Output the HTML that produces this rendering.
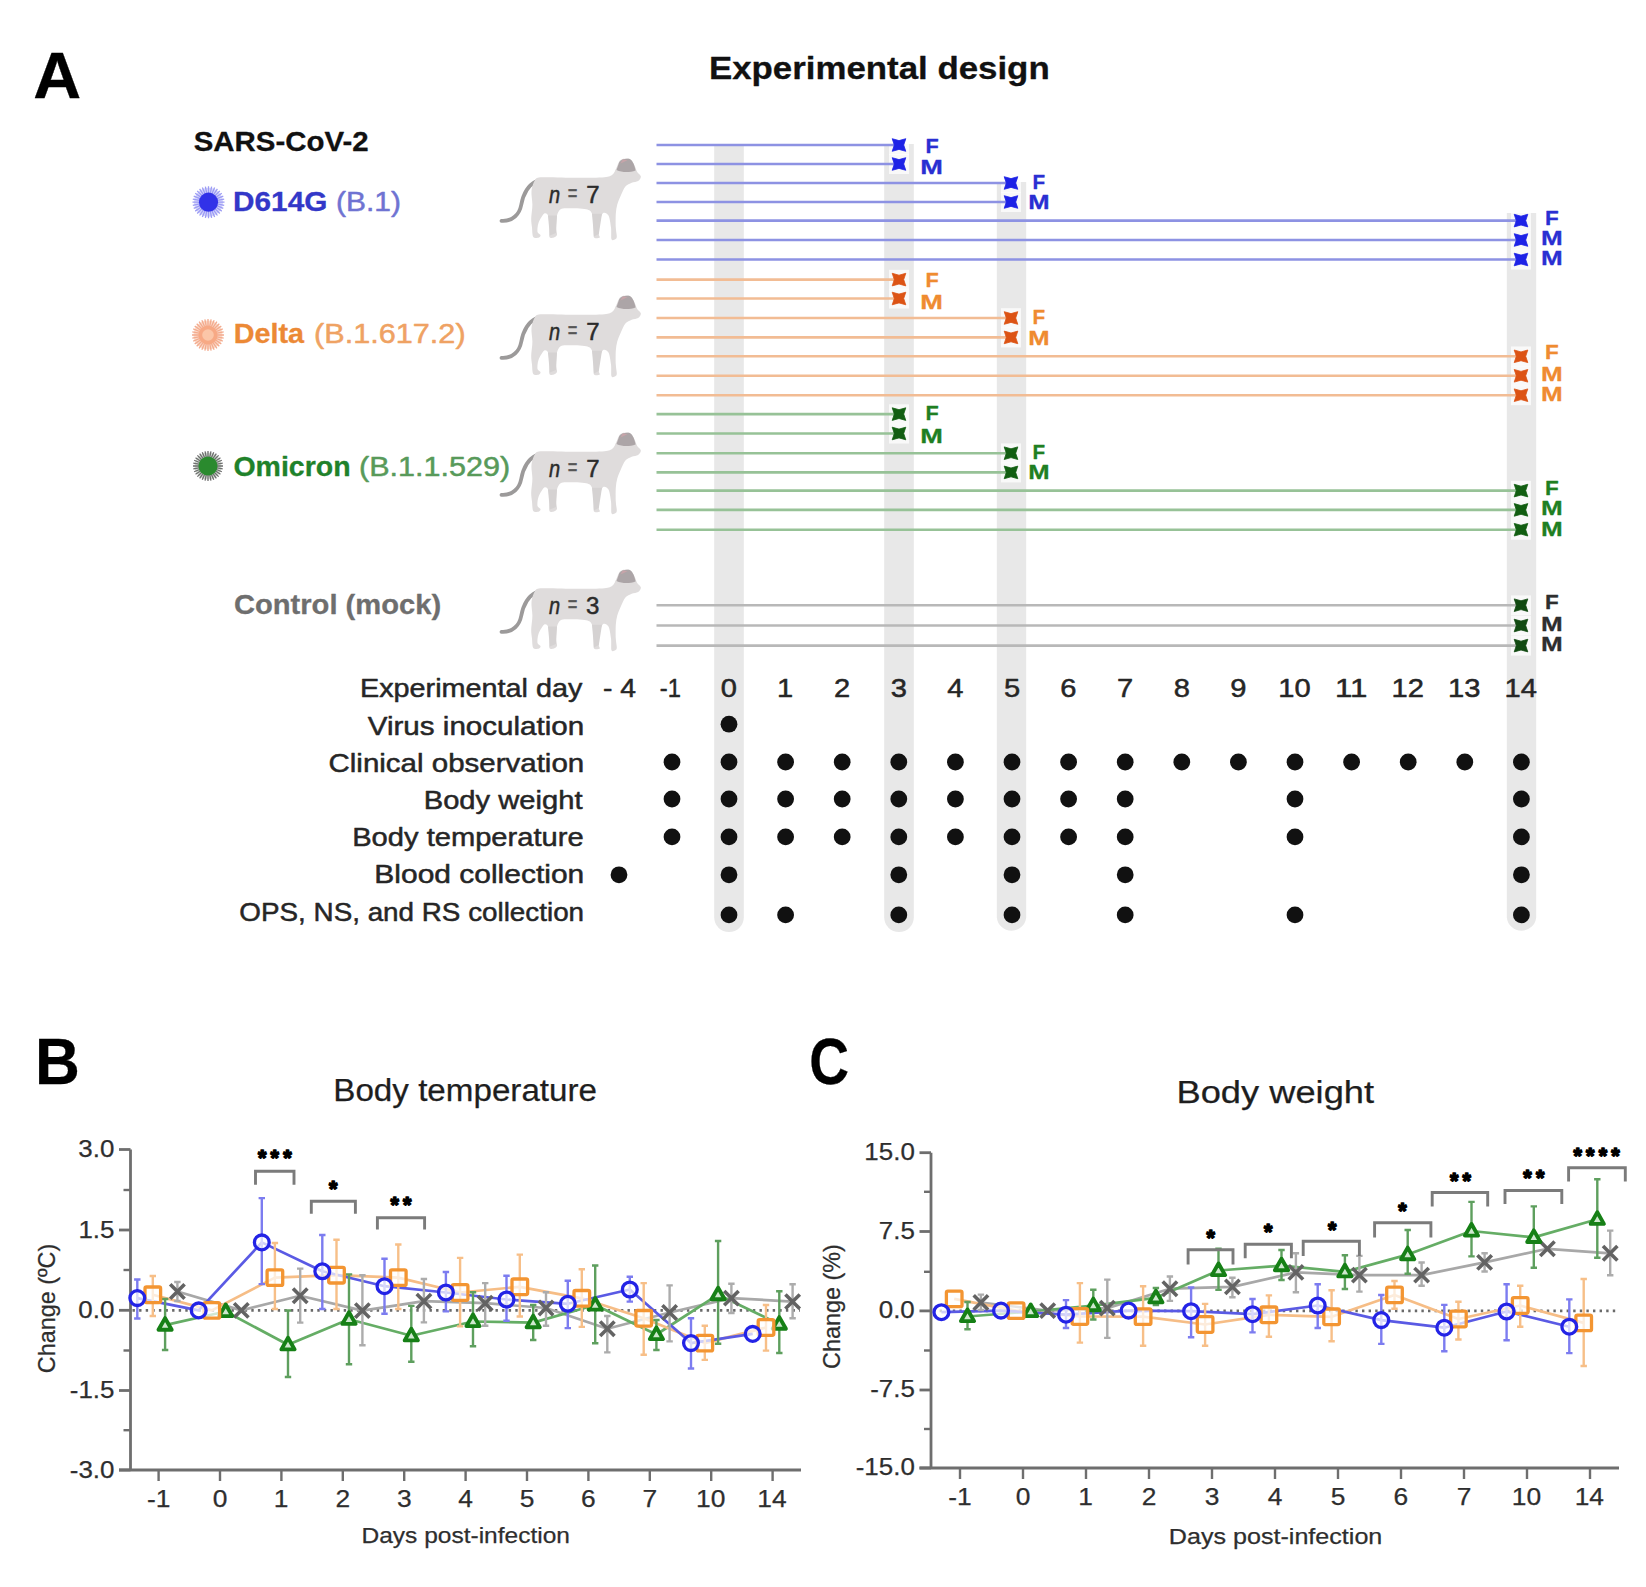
<!DOCTYPE html>
<html><head><meta charset="utf-8"><title>Experimental design</title>
<style>
html,body{margin:0;padding:0;background:#fff;}
body{width:1646px;height:1587px;overflow:hidden;}
svg{display:block;}
</style></head>
<body>
<svg width="1646" height="1587" viewBox="0 0 1646 1587" font-family="'Liberation Sans', Arial, sans-serif"><path d="M714.2,146.0 L743.8,146.0 L743.8,917.2 A14.75,14.75 0 0 1 714.2,917.2 Z" fill="#e8e8e8"/><path d="M884.2,144.0 L913.8,144.0 L913.8,917.2 A14.75,14.75 0 0 1 884.2,917.2 Z" fill="#e8e8e8"/><path d="M996.8,182.0 L1026.2,182.0 L1026.2,917.2 A14.75,14.75 0 0 1 996.8,917.2 Z" fill="#e8e8e8"/><path d="M1506.8,213.0 L1536.2,213.0 L1536.2,917.2 A14.75,14.75 0 0 1 1506.8,917.2 Z" fill="#e8e8e8"/><rect x="889.0" y="135.2" width="20" height="19.8" fill="#fff" fill-opacity="0.75"/><rect x="889.0" y="154.2" width="20" height="19.8" fill="#fff" fill-opacity="0.75"/><rect x="1001.0" y="173.2" width="20" height="19.8" fill="#fff" fill-opacity="0.75"/><rect x="1001.0" y="192.2" width="20" height="19.8" fill="#fff" fill-opacity="0.75"/><rect x="1511.0" y="210.8" width="20" height="19.8" fill="#fff" fill-opacity="0.75"/><rect x="1511.0" y="230.2" width="20" height="19.8" fill="#fff" fill-opacity="0.75"/><rect x="1511.0" y="249.7" width="20" height="19.8" fill="#fff" fill-opacity="0.75"/><rect x="889.0" y="269.8" width="20" height="19.8" fill="#fff" fill-opacity="0.75"/><rect x="889.0" y="288.7" width="20" height="19.8" fill="#fff" fill-opacity="0.75"/><rect x="1001.0" y="308.2" width="20" height="19.8" fill="#fff" fill-opacity="0.75"/><rect x="1001.0" y="327.6" width="20" height="19.8" fill="#fff" fill-opacity="0.75"/><rect x="1511.0" y="346.5" width="20" height="19.8" fill="#fff" fill-opacity="0.75"/><rect x="1511.0" y="366.0" width="20" height="19.8" fill="#fff" fill-opacity="0.75"/><rect x="1511.0" y="385.4" width="20" height="19.8" fill="#fff" fill-opacity="0.75"/><rect x="889.0" y="404.3" width="20" height="19.8" fill="#fff" fill-opacity="0.75"/><rect x="889.0" y="423.7" width="20" height="19.8" fill="#fff" fill-opacity="0.75"/><rect x="1001.0" y="443.4" width="20" height="19.8" fill="#fff" fill-opacity="0.75"/><rect x="1001.0" y="462.6" width="20" height="19.8" fill="#fff" fill-opacity="0.75"/><rect x="1511.0" y="480.8" width="20" height="19.8" fill="#fff" fill-opacity="0.75"/><rect x="1511.0" y="500.1" width="20" height="19.8" fill="#fff" fill-opacity="0.75"/><rect x="1511.0" y="519.9" width="20" height="19.8" fill="#fff" fill-opacity="0.75"/><rect x="1511.0" y="595.4" width="20" height="19.8" fill="#fff" fill-opacity="0.75"/><rect x="1511.0" y="615.7" width="20" height="19.8" fill="#fff" fill-opacity="0.75"/><rect x="1511.0" y="635.8" width="20" height="19.8" fill="#fff" fill-opacity="0.75"/><line x1="656.5" y1="145" x2="899.0" y2="145" stroke="#8d92e3" stroke-width="2.6"/><line x1="656.5" y1="164" x2="899.0" y2="164" stroke="#8d92e3" stroke-width="2.6"/><line x1="656.5" y1="183" x2="1011.0" y2="183" stroke="#8d92e3" stroke-width="2.6"/><line x1="656.5" y1="202" x2="1011.0" y2="202" stroke="#8d92e3" stroke-width="2.6"/><line x1="656.5" y1="220.6" x2="1521.0" y2="220.6" stroke="#8d92e3" stroke-width="2.6"/><line x1="656.5" y1="240" x2="1521.0" y2="240" stroke="#8d92e3" stroke-width="2.6"/><line x1="656.5" y1="259.5" x2="1521.0" y2="259.5" stroke="#8d92e3" stroke-width="2.6"/><line x1="656.5" y1="279.6" x2="899.0" y2="279.6" stroke="#f2bc94" stroke-width="2.6"/><line x1="656.5" y1="298.5" x2="899.0" y2="298.5" stroke="#f2bc94" stroke-width="2.6"/><line x1="656.5" y1="318" x2="1011.0" y2="318" stroke="#f2bc94" stroke-width="2.6"/><line x1="656.5" y1="337.4" x2="1011.0" y2="337.4" stroke="#f2bc94" stroke-width="2.6"/><line x1="656.5" y1="356.3" x2="1521.0" y2="356.3" stroke="#f2bc94" stroke-width="2.6"/><line x1="656.5" y1="375.8" x2="1521.0" y2="375.8" stroke="#f2bc94" stroke-width="2.6"/><line x1="656.5" y1="395.2" x2="1521.0" y2="395.2" stroke="#f2bc94" stroke-width="2.6"/><line x1="656.5" y1="414.1" x2="899.0" y2="414.1" stroke="#97c297" stroke-width="2.6"/><line x1="656.5" y1="433.5" x2="899.0" y2="433.5" stroke="#97c297" stroke-width="2.6"/><line x1="656.5" y1="453.2" x2="1011.0" y2="453.2" stroke="#97c297" stroke-width="2.6"/><line x1="656.5" y1="472.4" x2="1011.0" y2="472.4" stroke="#97c297" stroke-width="2.6"/><line x1="656.5" y1="490.6" x2="1521.0" y2="490.6" stroke="#97c297" stroke-width="2.6"/><line x1="656.5" y1="509.9" x2="1521.0" y2="509.9" stroke="#97c297" stroke-width="2.6"/><line x1="656.5" y1="529.7" x2="1521.0" y2="529.7" stroke="#97c297" stroke-width="2.6"/><line x1="656.5" y1="605.2" x2="1521.0" y2="605.2" stroke="#b8b8b8" stroke-width="2.6"/><line x1="656.5" y1="625.5" x2="1521.0" y2="625.5" stroke="#b8b8b8" stroke-width="2.6"/><line x1="656.5" y1="645.6" x2="1521.0" y2="645.6" stroke="#b8b8b8" stroke-width="2.6"/><polygon points="892.20,138.70 899.00,140.60 905.80,138.70 903.70,145.00 905.80,151.30 899.00,149.40 892.20,151.30 894.30,145.00" fill="#1d22e6" stroke="#1d22e6" stroke-width="0.8" stroke-linejoin="round"/><text x="925.55" y="153.0" font-size="21" fill="#2a2fd2" textLength="13.24" lengthAdjust="spacingAndGlyphs" font-weight="bold" stroke="#2a2fd2" stroke-width="0.3" stroke-linejoin="round">F</text><polygon points="892.20,157.70 899.00,159.60 905.80,157.70 903.70,164.00 905.80,170.30 899.00,168.40 892.20,170.30 894.30,164.00" fill="#1d22e6" stroke="#1d22e6" stroke-width="0.8" stroke-linejoin="round"/><text x="920.38" y="173.5" font-size="21" fill="#2a2fd2" textLength="22.64" lengthAdjust="spacingAndGlyphs" font-weight="bold" stroke="#2a2fd2" stroke-width="0.3" stroke-linejoin="round">M</text><polygon points="1004.20,176.70 1011.00,178.60 1017.80,176.70 1015.70,183.00 1017.80,189.30 1011.00,187.40 1004.20,189.30 1006.30,183.00" fill="#1d22e6" stroke="#1d22e6" stroke-width="0.8" stroke-linejoin="round"/><text x="1032.62" y="189.0" font-size="21" fill="#2a2fd2" textLength="12.64" lengthAdjust="spacingAndGlyphs" font-weight="bold" stroke="#2a2fd2" stroke-width="0.3" stroke-linejoin="round">F</text><polygon points="1004.20,195.70 1011.00,197.60 1017.80,195.70 1015.70,202.00 1017.80,208.30 1011.00,206.40 1004.20,208.30 1006.30,202.00" fill="#1d22e6" stroke="#1d22e6" stroke-width="0.8" stroke-linejoin="round"/><text x="1028.39" y="209.4" font-size="21" fill="#2a2fd2" textLength="21.33" lengthAdjust="spacingAndGlyphs" font-weight="bold" stroke="#2a2fd2" stroke-width="0.3" stroke-linejoin="round">M</text><polygon points="1514.20,214.30 1521.00,216.20 1527.80,214.30 1525.70,220.60 1527.80,226.90 1521.00,225.00 1514.20,226.90 1516.30,220.60" fill="#1d22e6" stroke="#1d22e6" stroke-width="0.8" stroke-linejoin="round"/><text x="1544.90" y="225.0" font-size="21" fill="#2a2fd2" textLength="13.73" lengthAdjust="spacingAndGlyphs" font-weight="bold" stroke="#2a2fd2" stroke-width="0.3" stroke-linejoin="round">F</text><polygon points="1514.20,233.70 1521.00,235.60 1527.80,233.70 1525.70,240.00 1527.80,246.30 1521.00,244.40 1514.20,246.30 1516.30,240.00" fill="#1d22e6" stroke="#1d22e6" stroke-width="0.8" stroke-linejoin="round"/><text x="1541.06" y="245.0" font-size="21" fill="#2a2fd2" textLength="21.68" lengthAdjust="spacingAndGlyphs" font-weight="bold" stroke="#2a2fd2" stroke-width="0.3" stroke-linejoin="round">M</text><polygon points="1514.20,253.20 1521.00,255.10 1527.80,253.20 1525.70,259.50 1527.80,265.80 1521.00,263.90 1514.20,265.80 1516.30,259.50" fill="#1d22e6" stroke="#1d22e6" stroke-width="0.8" stroke-linejoin="round"/><text x="1541.06" y="264.6" font-size="21" fill="#2a2fd2" textLength="21.68" lengthAdjust="spacingAndGlyphs" font-weight="bold" stroke="#2a2fd2" stroke-width="0.3" stroke-linejoin="round">M</text><polygon points="892.20,273.30 899.00,275.20 905.80,273.30 903.70,279.60 905.80,285.90 899.00,284.00 892.20,285.90 894.30,279.60" fill="#dc5314" stroke="#dc5314" stroke-width="0.8" stroke-linejoin="round"/><text x="925.55" y="286.5" font-size="21" fill="#ef8b30" textLength="13.24" lengthAdjust="spacingAndGlyphs" font-weight="bold" stroke="#ef8b30" stroke-width="0.3" stroke-linejoin="round">F</text><polygon points="892.20,292.20 899.00,294.10 905.80,292.20 903.70,298.50 905.80,304.80 899.00,302.90 892.20,304.80 894.30,298.50" fill="#dc5314" stroke="#dc5314" stroke-width="0.8" stroke-linejoin="round"/><text x="920.38" y="308.6" font-size="21" fill="#ef8b30" textLength="22.64" lengthAdjust="spacingAndGlyphs" font-weight="bold" stroke="#ef8b30" stroke-width="0.3" stroke-linejoin="round">M</text><polygon points="1004.20,311.70 1011.00,313.60 1017.80,311.70 1015.70,318.00 1017.80,324.30 1011.00,322.40 1004.20,324.30 1006.30,318.00" fill="#dc5314" stroke="#dc5314" stroke-width="0.8" stroke-linejoin="round"/><text x="1032.62" y="323.7" font-size="21" fill="#ef8b30" textLength="12.64" lengthAdjust="spacingAndGlyphs" font-weight="bold" stroke="#ef8b30" stroke-width="0.3" stroke-linejoin="round">F</text><polygon points="1004.20,331.10 1011.00,333.00 1017.80,331.10 1015.70,337.40 1017.80,343.70 1011.00,341.80 1004.20,343.70 1006.30,337.40" fill="#dc5314" stroke="#dc5314" stroke-width="0.8" stroke-linejoin="round"/><text x="1028.39" y="344.7" font-size="21" fill="#ef8b30" textLength="21.33" lengthAdjust="spacingAndGlyphs" font-weight="bold" stroke="#ef8b30" stroke-width="0.3" stroke-linejoin="round">M</text><polygon points="1514.20,350.00 1521.00,351.90 1527.80,350.00 1525.70,356.30 1527.80,362.60 1521.00,360.70 1514.20,362.60 1516.30,356.30" fill="#dc5314" stroke="#dc5314" stroke-width="0.8" stroke-linejoin="round"/><text x="1544.90" y="359.0" font-size="21" fill="#ef8b30" textLength="13.73" lengthAdjust="spacingAndGlyphs" font-weight="bold" stroke="#ef8b30" stroke-width="0.3" stroke-linejoin="round">F</text><polygon points="1514.20,369.50 1521.00,371.40 1527.80,369.50 1525.70,375.80 1527.80,382.10 1521.00,380.20 1514.20,382.10 1516.30,375.80" fill="#dc5314" stroke="#dc5314" stroke-width="0.8" stroke-linejoin="round"/><text x="1541.06" y="380.8" font-size="21" fill="#ef8b30" textLength="21.68" lengthAdjust="spacingAndGlyphs" font-weight="bold" stroke="#ef8b30" stroke-width="0.3" stroke-linejoin="round">M</text><polygon points="1514.20,388.90 1521.00,390.80 1527.80,388.90 1525.70,395.20 1527.80,401.50 1521.00,399.60 1514.20,401.50 1516.30,395.20" fill="#dc5314" stroke="#dc5314" stroke-width="0.8" stroke-linejoin="round"/><text x="1541.06" y="400.7" font-size="21" fill="#ef8b30" textLength="21.68" lengthAdjust="spacingAndGlyphs" font-weight="bold" stroke="#ef8b30" stroke-width="0.3" stroke-linejoin="round">M</text><polygon points="892.20,407.80 899.00,409.70 905.80,407.80 903.70,414.10 905.80,420.40 899.00,418.50 892.20,420.40 894.30,414.10" fill="#125e12" stroke="#125e12" stroke-width="0.8" stroke-linejoin="round"/><text x="925.55" y="420.0" font-size="21" fill="#1f7f22" textLength="13.24" lengthAdjust="spacingAndGlyphs" font-weight="bold" stroke="#1f7f22" stroke-width="0.3" stroke-linejoin="round">F</text><polygon points="892.20,427.20 899.00,429.10 905.80,427.20 903.70,433.50 905.80,439.80 899.00,437.90 892.20,439.80 894.30,433.50" fill="#125e12" stroke="#125e12" stroke-width="0.8" stroke-linejoin="round"/><text x="920.38" y="443.3" font-size="21" fill="#1f7f22" textLength="22.64" lengthAdjust="spacingAndGlyphs" font-weight="bold" stroke="#1f7f22" stroke-width="0.3" stroke-linejoin="round">M</text><polygon points="1004.20,446.90 1011.00,448.80 1017.80,446.90 1015.70,453.20 1017.80,459.50 1011.00,457.60 1004.20,459.50 1006.30,453.20" fill="#125e12" stroke="#125e12" stroke-width="0.8" stroke-linejoin="round"/><text x="1032.62" y="459.4" font-size="21" fill="#1f7f22" textLength="12.64" lengthAdjust="spacingAndGlyphs" font-weight="bold" stroke="#1f7f22" stroke-width="0.3" stroke-linejoin="round">F</text><polygon points="1004.20,466.10 1011.00,468.00 1017.80,466.10 1015.70,472.40 1017.80,478.70 1011.00,476.80 1004.20,478.70 1006.30,472.40" fill="#125e12" stroke="#125e12" stroke-width="0.8" stroke-linejoin="round"/><text x="1028.39" y="479.1" font-size="21" fill="#1f7f22" textLength="21.33" lengthAdjust="spacingAndGlyphs" font-weight="bold" stroke="#1f7f22" stroke-width="0.3" stroke-linejoin="round">M</text><polygon points="1514.20,484.30 1521.00,486.20 1527.80,484.30 1525.70,490.60 1527.80,496.90 1521.00,495.00 1514.20,496.90 1516.30,490.60" fill="#125e12" stroke="#125e12" stroke-width="0.8" stroke-linejoin="round"/><text x="1544.90" y="495.0" font-size="21" fill="#1f7f22" textLength="13.73" lengthAdjust="spacingAndGlyphs" font-weight="bold" stroke="#1f7f22" stroke-width="0.3" stroke-linejoin="round">F</text><polygon points="1514.20,503.60 1521.00,505.50 1527.80,503.60 1525.70,509.90 1527.80,516.20 1521.00,514.30 1514.20,516.20 1516.30,509.90" fill="#125e12" stroke="#125e12" stroke-width="0.8" stroke-linejoin="round"/><text x="1541.06" y="515.3" font-size="21" fill="#1f7f22" textLength="21.68" lengthAdjust="spacingAndGlyphs" font-weight="bold" stroke="#1f7f22" stroke-width="0.3" stroke-linejoin="round">M</text><polygon points="1514.20,523.40 1521.00,525.30 1527.80,523.40 1525.70,529.70 1527.80,536.00 1521.00,534.10 1514.20,536.00 1516.30,529.70" fill="#125e12" stroke="#125e12" stroke-width="0.8" stroke-linejoin="round"/><text x="1541.06" y="536.2" font-size="21" fill="#1f7f22" textLength="21.68" lengthAdjust="spacingAndGlyphs" font-weight="bold" stroke="#1f7f22" stroke-width="0.3" stroke-linejoin="round">M</text><polygon points="1514.20,598.90 1521.00,600.80 1527.80,598.90 1525.70,605.20 1527.80,611.50 1521.00,609.60 1514.20,611.50 1516.30,605.20" fill="#124a12" stroke="#124a12" stroke-width="0.8" stroke-linejoin="round"/><text x="1544.90" y="609.4" font-size="21" fill="#2e2e2e" textLength="13.73" lengthAdjust="spacingAndGlyphs" font-weight="bold" stroke="#2e2e2e" stroke-width="0.3" stroke-linejoin="round">F</text><polygon points="1514.20,619.20 1521.00,621.10 1527.80,619.20 1525.70,625.50 1527.80,631.80 1521.00,629.90 1514.20,631.80 1516.30,625.50" fill="#124a12" stroke="#124a12" stroke-width="0.8" stroke-linejoin="round"/><text x="1541.06" y="630.8" font-size="21" fill="#2e2e2e" textLength="21.68" lengthAdjust="spacingAndGlyphs" font-weight="bold" stroke="#2e2e2e" stroke-width="0.3" stroke-linejoin="round">M</text><polygon points="1514.20,639.30 1521.00,641.20 1527.80,639.30 1525.70,645.60 1527.80,651.90 1521.00,650.00 1514.20,651.90 1516.30,645.60" fill="#124a12" stroke="#124a12" stroke-width="0.8" stroke-linejoin="round"/><text x="1541.06" y="650.7" font-size="21" fill="#2e2e2e" textLength="21.68" lengthAdjust="spacingAndGlyphs" font-weight="bold" stroke="#2e2e2e" stroke-width="0.3" stroke-linejoin="round">M</text><text x="33.15" y="97.5" font-size="64" fill="#000" textLength="47.90" lengthAdjust="spacingAndGlyphs" font-weight="bold" stroke="#000" stroke-width="0.3" stroke-linejoin="round">A</text><text x="708.97" y="79.0" font-size="32" fill="#111" textLength="340.69" lengthAdjust="spacingAndGlyphs" font-weight="bold" stroke="#111" stroke-width="0.3" stroke-linejoin="round">Experimental design</text><text x="193.76" y="151.0" font-size="28" fill="#111" textLength="174.91" lengthAdjust="spacingAndGlyphs" font-weight="bold" stroke="#111" stroke-width="0.3" stroke-linejoin="round">SARS-CoV-2</text><circle cx="208.5" cy="202.2" r="14.5" fill="#d6d6fb"/><path d="M217.62,202.20L224.50,202.20M217.44,203.98L224.19,205.32M216.93,205.69L223.28,208.32M216.08,207.27L221.80,211.09M214.95,208.65L219.81,213.51M213.57,209.78L217.39,215.50M211.99,210.63L214.62,216.98M210.28,211.14L211.62,217.89M208.50,211.32L208.50,218.20M206.72,211.14L205.38,217.89M205.01,210.63L202.38,216.98M203.43,209.78L199.61,215.50M202.05,208.65L197.19,213.51M200.92,207.27L195.20,211.09M200.07,205.69L193.72,208.32M199.56,203.98L192.81,205.32M199.38,202.20L192.50,202.20M199.56,200.42L192.81,199.08M200.07,198.71L193.72,196.08M200.92,197.13L195.20,193.31M202.05,195.75L197.19,190.89M203.43,194.62L199.61,188.90M205.01,193.77L202.38,187.42M206.72,193.26L205.38,186.51M208.50,193.08L208.50,186.20M210.28,193.26L211.62,186.51M211.99,193.77L214.62,187.42M213.57,194.62L217.39,188.90M214.95,195.75L219.81,190.89M216.08,197.13L221.80,193.31M216.93,198.71L223.28,196.08M217.44,200.42L224.19,199.08" stroke="#9c9cf4" stroke-width="1.3"/><circle cx="208.5" cy="202.2" r="9.6" fill="#3131e8"/><circle cx="208.0" cy="335.0" r="14.5" fill="#fbd9c8"/><path d="M217.12,335.00L224.00,335.00M216.94,336.78L223.69,338.12M216.43,338.49L222.78,341.12M215.58,340.07L221.30,343.89M214.45,341.45L219.31,346.31M213.07,342.58L216.89,348.30M211.49,343.43L214.12,349.78M209.78,343.94L211.12,350.69M208.00,344.12L208.00,351.00M206.22,343.94L204.88,350.69M204.51,343.43L201.88,349.78M202.93,342.58L199.11,348.30M201.55,341.45L196.69,346.31M200.42,340.07L194.70,343.89M199.57,338.49L193.22,341.12M199.06,336.78L192.31,338.12M198.88,335.00L192.00,335.00M199.06,333.22L192.31,331.88M199.57,331.51L193.22,328.88M200.42,329.93L194.70,326.11M201.55,328.55L196.69,323.69M202.93,327.42L199.11,321.70M204.51,326.57L201.88,320.22M206.22,326.06L204.88,319.31M208.00,325.88L208.00,319.00M209.78,326.06L211.12,319.31M211.49,326.57L214.12,320.22M213.07,327.42L216.89,321.70M214.45,328.55L219.31,323.69M215.58,329.93L221.30,326.11M216.43,331.51L222.78,328.88M216.94,333.22L223.69,331.88" stroke="#f3ab8e" stroke-width="1.3"/><circle cx="208.0" cy="335.0" r="9.6" fill="#f7a985"/><circle cx="208.0" cy="335.0" r="5.8" fill="#fbc6a8"/><circle cx="208.0" cy="466.0" r="13.5" fill="#d3dcd3"/><path d="M217.12,466.00L223.00,466.00M216.94,467.78L222.71,468.93M216.43,469.49L221.86,471.74M215.58,471.07L220.47,474.33M214.45,472.45L218.61,476.61M213.07,473.58L216.33,478.47M211.49,474.43L213.74,479.86M209.78,474.94L210.93,480.71M208.00,475.12L208.00,481.00M206.22,474.94L205.07,480.71M204.51,474.43L202.26,479.86M202.93,473.58L199.67,478.47M201.55,472.45L197.39,476.61M200.42,471.07L195.53,474.33M199.57,469.49L194.14,471.74M199.06,467.78L193.29,468.93M198.88,466.00L193.00,466.00M199.06,464.22L193.29,463.07M199.57,462.51L194.14,460.26M200.42,460.93L195.53,457.67M201.55,459.55L197.39,455.39M202.93,458.42L199.67,453.53M204.51,457.57L202.26,452.14M206.22,457.06L205.07,451.29M208.00,456.88L208.00,451.00M209.78,457.06L210.93,451.29M211.49,457.57L213.74,452.14M213.07,458.42L216.33,453.53M214.45,459.55L218.61,455.39M215.58,460.93L220.47,457.67M216.43,462.51L221.86,460.26M216.94,464.22L222.71,463.07" stroke="#6e6e6e" stroke-width="1.3"/><circle cx="208.0" cy="466.0" r="9.6" fill="#2a8a2e"/><text x="233.11" y="210.5" font-size="28.5" fill="#3338c8" textLength="94.23" lengthAdjust="spacingAndGlyphs" font-weight="bold" stroke="#3338c8" stroke-width="0.3" stroke-linejoin="round">D614G</text><text x="335.94" y="210.5" font-size="28.5" fill="#6f73d2" textLength="64.92" lengthAdjust="spacingAndGlyphs" stroke="#6f73d2" stroke-width="0.5" stroke-linejoin="round">(B.1)</text><text x="233.78" y="342.6" font-size="28.5" fill="#ec8935" textLength="70.34" lengthAdjust="spacingAndGlyphs" font-weight="bold" stroke="#ec8935" stroke-width="0.3" stroke-linejoin="round">Delta</text><text x="314.00" y="342.6" font-size="28.5" fill="#efa263" textLength="151.60" lengthAdjust="spacingAndGlyphs" stroke="#efa263" stroke-width="0.5" stroke-linejoin="round">(B.1.617.2)</text><text x="233.43" y="475.7" font-size="28.5" fill="#1f822b" textLength="117.24" lengthAdjust="spacingAndGlyphs" font-weight="bold" stroke="#1f822b" stroke-width="0.3" stroke-linejoin="round">Omicron</text><text x="359.00" y="475.7" font-size="28.5" fill="#589a5a" textLength="151.19" lengthAdjust="spacingAndGlyphs" stroke="#589a5a" stroke-width="0.5" stroke-linejoin="round">(B.1.1.529)</text><text x="233.90" y="614.0" font-size="28.5" fill="#6e6e6e" textLength="207.25" lengthAdjust="spacingAndGlyphs" font-weight="bold" stroke="#6e6e6e" stroke-width="0.3" stroke-linejoin="round">Control (mock)</text><g transform="translate(0,0)"><path d="M536,181.5 C527,186 523,195 521.2,205 C519.5,214 513,221.5 501.5,220.8" stroke="#9c9a9a" stroke-width="3.8" fill="none" stroke-linecap="round"/><path d="M535.1,180.1C536.7,178.0 536.1,177.6 542.4,177.3C548.7,177.0 567.7,177.8 577.0,177.8C586.3,177.8 599.1,177.8 604.4,177.3C609.7,176.8 610.8,176.0 612.6,174.6C614.4,173.2 615.2,170.1 616.2,168.2C617.2,166.3 618.0,163.3 619.0,161.9C620.0,160.5 621.0,159.5 622.6,159.1C624.2,158.7 628.1,158.1 629.9,159.1C631.7,160.1 633.4,163.6 634.5,165.5C635.6,167.4 636.2,170.3 637.2,171.9C638.2,173.5 640.8,175.0 640.9,176.4C641.0,177.8 639.5,180.0 638.1,181.0C636.7,182.0 633.6,182.0 631.7,182.8C629.8,183.6 627.0,184.6 625.4,186.5C623.8,188.4 622.0,192.9 620.8,195.6C619.6,198.3 618.0,202.0 617.2,204.7C616.5,207.4 616.0,210.4 615.8,213.8C615.6,217.2 615.6,224.1 615.8,227.5C615.9,230.9 616.9,234.8 616.8,236.6C616.7,238.4 616.1,238.9 615.3,239.3C614.5,239.7 612.1,241.1 611.5,239.3C610.9,237.5 611.5,231.1 611.0,227.5C610.5,223.9 609.7,217.7 608.5,215.6C607.3,213.5 604.4,212.1 603.0,213.2C601.6,214.3 599.6,219.8 599.0,222.9C598.4,226.0 598.7,231.7 598.8,233.9C598.9,236.1 600.5,237.0 599.8,237.5C599.1,238.0 594.9,239.0 594.0,237.5C593.1,236.0 593.8,231.1 593.5,227.5C593.2,223.9 593.1,216.5 592.0,213.8C590.9,211.1 589.8,210.1 586.2,209.3C582.6,208.5 571.7,208.3 567.9,208.3C564.1,208.3 562.2,208.2 560.6,209.3C559.0,210.4 557.7,212.9 557.0,215.6C556.3,218.3 556.0,224.6 556.0,227.5C556.0,230.4 557.3,233.3 557.0,234.8C556.7,236.3 555.1,237.2 554.0,237.5C552.9,237.8 550.2,238.5 549.5,237.0C548.8,235.5 549.7,230.7 549.5,227.5C549.3,224.3 548.8,217.7 548.0,215.6C547.2,213.5 545.4,212.7 544.0,213.8C542.6,214.9 539.5,220.2 538.5,222.9C537.5,225.6 537.2,230.2 537.5,232.0C537.8,233.8 540.3,234.2 540.5,235.0C540.7,235.8 540.1,237.2 539.0,237.5C537.9,237.8 534.3,238.5 533.3,237.0C532.2,235.5 532.3,230.3 532.0,227.5C531.7,224.7 531.1,221.8 531.2,218.4C531.3,215.0 532.4,208.8 532.4,204.7C532.4,200.6 531.1,194.7 531.5,191.0C531.9,187.3 533.5,182.2 535.1,180.1Z" fill="#dfdcdc"/><path d="M592,213.8 L602,213.8 L598.8,233.9 L594,236.5 Z M548,215.6 L557,215.6 L556,233 L549.8,235.5 Z" fill="#d5d2d2"/><path d="M616.5,170 L619.3,162 C621.5,159 626,158.3 629.8,159 C632.6,160.6 634.2,164 635.6,170.5 C629,172.8 622,172.5 616.5,170 Z" fill="#aca5a7"/><path d="M620.5,163.5 L622.8,159.2 L627.5,160.2 Z" fill="#c7a4a9"/></g><text x="548.97" y="203" font-size="23" fill="#2b2b2b" textLength="11.14" lengthAdjust="spacingAndGlyphs" font-style="italic" stroke="#2b2b2b" stroke-width="0.5" stroke-linejoin="round">n</text><text x="567.70" y="201" font-size="23" fill="#555" textLength="9.62" lengthAdjust="spacingAndGlyphs" stroke="#555" stroke-width="0.5" stroke-linejoin="round">=</text><text x="586.27" y="203" font-size="23" fill="#2b2b2b" textLength="13.34" lengthAdjust="spacingAndGlyphs" stroke="#2b2b2b" stroke-width="0.5" stroke-linejoin="round">7</text><g transform="translate(0,137)"><path d="M536,181.5 C527,186 523,195 521.2,205 C519.5,214 513,221.5 501.5,220.8" stroke="#9c9a9a" stroke-width="3.8" fill="none" stroke-linecap="round"/><path d="M535.1,180.1C536.7,178.0 536.1,177.6 542.4,177.3C548.7,177.0 567.7,177.8 577.0,177.8C586.3,177.8 599.1,177.8 604.4,177.3C609.7,176.8 610.8,176.0 612.6,174.6C614.4,173.2 615.2,170.1 616.2,168.2C617.2,166.3 618.0,163.3 619.0,161.9C620.0,160.5 621.0,159.5 622.6,159.1C624.2,158.7 628.1,158.1 629.9,159.1C631.7,160.1 633.4,163.6 634.5,165.5C635.6,167.4 636.2,170.3 637.2,171.9C638.2,173.5 640.8,175.0 640.9,176.4C641.0,177.8 639.5,180.0 638.1,181.0C636.7,182.0 633.6,182.0 631.7,182.8C629.8,183.6 627.0,184.6 625.4,186.5C623.8,188.4 622.0,192.9 620.8,195.6C619.6,198.3 618.0,202.0 617.2,204.7C616.5,207.4 616.0,210.4 615.8,213.8C615.6,217.2 615.6,224.1 615.8,227.5C615.9,230.9 616.9,234.8 616.8,236.6C616.7,238.4 616.1,238.9 615.3,239.3C614.5,239.7 612.1,241.1 611.5,239.3C610.9,237.5 611.5,231.1 611.0,227.5C610.5,223.9 609.7,217.7 608.5,215.6C607.3,213.5 604.4,212.1 603.0,213.2C601.6,214.3 599.6,219.8 599.0,222.9C598.4,226.0 598.7,231.7 598.8,233.9C598.9,236.1 600.5,237.0 599.8,237.5C599.1,238.0 594.9,239.0 594.0,237.5C593.1,236.0 593.8,231.1 593.5,227.5C593.2,223.9 593.1,216.5 592.0,213.8C590.9,211.1 589.8,210.1 586.2,209.3C582.6,208.5 571.7,208.3 567.9,208.3C564.1,208.3 562.2,208.2 560.6,209.3C559.0,210.4 557.7,212.9 557.0,215.6C556.3,218.3 556.0,224.6 556.0,227.5C556.0,230.4 557.3,233.3 557.0,234.8C556.7,236.3 555.1,237.2 554.0,237.5C552.9,237.8 550.2,238.5 549.5,237.0C548.8,235.5 549.7,230.7 549.5,227.5C549.3,224.3 548.8,217.7 548.0,215.6C547.2,213.5 545.4,212.7 544.0,213.8C542.6,214.9 539.5,220.2 538.5,222.9C537.5,225.6 537.2,230.2 537.5,232.0C537.8,233.8 540.3,234.2 540.5,235.0C540.7,235.8 540.1,237.2 539.0,237.5C537.9,237.8 534.3,238.5 533.3,237.0C532.2,235.5 532.3,230.3 532.0,227.5C531.7,224.7 531.1,221.8 531.2,218.4C531.3,215.0 532.4,208.8 532.4,204.7C532.4,200.6 531.1,194.7 531.5,191.0C531.9,187.3 533.5,182.2 535.1,180.1Z" fill="#dfdcdc"/><path d="M592,213.8 L602,213.8 L598.8,233.9 L594,236.5 Z M548,215.6 L557,215.6 L556,233 L549.8,235.5 Z" fill="#d5d2d2"/><path d="M616.5,170 L619.3,162 C621.5,159 626,158.3 629.8,159 C632.6,160.6 634.2,164 635.6,170.5 C629,172.8 622,172.5 616.5,170 Z" fill="#aca5a7"/><path d="M620.5,163.5 L622.8,159.2 L627.5,160.2 Z" fill="#c7a4a9"/></g><text x="548.97" y="340" font-size="23" fill="#2b2b2b" textLength="11.14" lengthAdjust="spacingAndGlyphs" font-style="italic" stroke="#2b2b2b" stroke-width="0.5" stroke-linejoin="round">n</text><text x="567.70" y="338" font-size="23" fill="#555" textLength="9.62" lengthAdjust="spacingAndGlyphs" stroke="#555" stroke-width="0.5" stroke-linejoin="round">=</text><text x="586.27" y="340" font-size="23" fill="#2b2b2b" textLength="13.34" lengthAdjust="spacingAndGlyphs" stroke="#2b2b2b" stroke-width="0.5" stroke-linejoin="round">7</text><g transform="translate(0,274)"><path d="M536,181.5 C527,186 523,195 521.2,205 C519.5,214 513,221.5 501.5,220.8" stroke="#9c9a9a" stroke-width="3.8" fill="none" stroke-linecap="round"/><path d="M535.1,180.1C536.7,178.0 536.1,177.6 542.4,177.3C548.7,177.0 567.7,177.8 577.0,177.8C586.3,177.8 599.1,177.8 604.4,177.3C609.7,176.8 610.8,176.0 612.6,174.6C614.4,173.2 615.2,170.1 616.2,168.2C617.2,166.3 618.0,163.3 619.0,161.9C620.0,160.5 621.0,159.5 622.6,159.1C624.2,158.7 628.1,158.1 629.9,159.1C631.7,160.1 633.4,163.6 634.5,165.5C635.6,167.4 636.2,170.3 637.2,171.9C638.2,173.5 640.8,175.0 640.9,176.4C641.0,177.8 639.5,180.0 638.1,181.0C636.7,182.0 633.6,182.0 631.7,182.8C629.8,183.6 627.0,184.6 625.4,186.5C623.8,188.4 622.0,192.9 620.8,195.6C619.6,198.3 618.0,202.0 617.2,204.7C616.5,207.4 616.0,210.4 615.8,213.8C615.6,217.2 615.6,224.1 615.8,227.5C615.9,230.9 616.9,234.8 616.8,236.6C616.7,238.4 616.1,238.9 615.3,239.3C614.5,239.7 612.1,241.1 611.5,239.3C610.9,237.5 611.5,231.1 611.0,227.5C610.5,223.9 609.7,217.7 608.5,215.6C607.3,213.5 604.4,212.1 603.0,213.2C601.6,214.3 599.6,219.8 599.0,222.9C598.4,226.0 598.7,231.7 598.8,233.9C598.9,236.1 600.5,237.0 599.8,237.5C599.1,238.0 594.9,239.0 594.0,237.5C593.1,236.0 593.8,231.1 593.5,227.5C593.2,223.9 593.1,216.5 592.0,213.8C590.9,211.1 589.8,210.1 586.2,209.3C582.6,208.5 571.7,208.3 567.9,208.3C564.1,208.3 562.2,208.2 560.6,209.3C559.0,210.4 557.7,212.9 557.0,215.6C556.3,218.3 556.0,224.6 556.0,227.5C556.0,230.4 557.3,233.3 557.0,234.8C556.7,236.3 555.1,237.2 554.0,237.5C552.9,237.8 550.2,238.5 549.5,237.0C548.8,235.5 549.7,230.7 549.5,227.5C549.3,224.3 548.8,217.7 548.0,215.6C547.2,213.5 545.4,212.7 544.0,213.8C542.6,214.9 539.5,220.2 538.5,222.9C537.5,225.6 537.2,230.2 537.5,232.0C537.8,233.8 540.3,234.2 540.5,235.0C540.7,235.8 540.1,237.2 539.0,237.5C537.9,237.8 534.3,238.5 533.3,237.0C532.2,235.5 532.3,230.3 532.0,227.5C531.7,224.7 531.1,221.8 531.2,218.4C531.3,215.0 532.4,208.8 532.4,204.7C532.4,200.6 531.1,194.7 531.5,191.0C531.9,187.3 533.5,182.2 535.1,180.1Z" fill="#dfdcdc"/><path d="M592,213.8 L602,213.8 L598.8,233.9 L594,236.5 Z M548,215.6 L557,215.6 L556,233 L549.8,235.5 Z" fill="#d5d2d2"/><path d="M616.5,170 L619.3,162 C621.5,159 626,158.3 629.8,159 C632.6,160.6 634.2,164 635.6,170.5 C629,172.8 622,172.5 616.5,170 Z" fill="#aca5a7"/><path d="M620.5,163.5 L622.8,159.2 L627.5,160.2 Z" fill="#c7a4a9"/></g><text x="548.97" y="477" font-size="23" fill="#2b2b2b" textLength="11.14" lengthAdjust="spacingAndGlyphs" font-style="italic" stroke="#2b2b2b" stroke-width="0.5" stroke-linejoin="round">n</text><text x="567.70" y="475" font-size="23" fill="#555" textLength="9.62" lengthAdjust="spacingAndGlyphs" stroke="#555" stroke-width="0.5" stroke-linejoin="round">=</text><text x="586.27" y="477" font-size="23" fill="#2b2b2b" textLength="13.34" lengthAdjust="spacingAndGlyphs" stroke="#2b2b2b" stroke-width="0.5" stroke-linejoin="round">7</text><g transform="translate(0,411)"><path d="M536,181.5 C527,186 523,195 521.2,205 C519.5,214 513,221.5 501.5,220.8" stroke="#9c9a9a" stroke-width="3.8" fill="none" stroke-linecap="round"/><path d="M535.1,180.1C536.7,178.0 536.1,177.6 542.4,177.3C548.7,177.0 567.7,177.8 577.0,177.8C586.3,177.8 599.1,177.8 604.4,177.3C609.7,176.8 610.8,176.0 612.6,174.6C614.4,173.2 615.2,170.1 616.2,168.2C617.2,166.3 618.0,163.3 619.0,161.9C620.0,160.5 621.0,159.5 622.6,159.1C624.2,158.7 628.1,158.1 629.9,159.1C631.7,160.1 633.4,163.6 634.5,165.5C635.6,167.4 636.2,170.3 637.2,171.9C638.2,173.5 640.8,175.0 640.9,176.4C641.0,177.8 639.5,180.0 638.1,181.0C636.7,182.0 633.6,182.0 631.7,182.8C629.8,183.6 627.0,184.6 625.4,186.5C623.8,188.4 622.0,192.9 620.8,195.6C619.6,198.3 618.0,202.0 617.2,204.7C616.5,207.4 616.0,210.4 615.8,213.8C615.6,217.2 615.6,224.1 615.8,227.5C615.9,230.9 616.9,234.8 616.8,236.6C616.7,238.4 616.1,238.9 615.3,239.3C614.5,239.7 612.1,241.1 611.5,239.3C610.9,237.5 611.5,231.1 611.0,227.5C610.5,223.9 609.7,217.7 608.5,215.6C607.3,213.5 604.4,212.1 603.0,213.2C601.6,214.3 599.6,219.8 599.0,222.9C598.4,226.0 598.7,231.7 598.8,233.9C598.9,236.1 600.5,237.0 599.8,237.5C599.1,238.0 594.9,239.0 594.0,237.5C593.1,236.0 593.8,231.1 593.5,227.5C593.2,223.9 593.1,216.5 592.0,213.8C590.9,211.1 589.8,210.1 586.2,209.3C582.6,208.5 571.7,208.3 567.9,208.3C564.1,208.3 562.2,208.2 560.6,209.3C559.0,210.4 557.7,212.9 557.0,215.6C556.3,218.3 556.0,224.6 556.0,227.5C556.0,230.4 557.3,233.3 557.0,234.8C556.7,236.3 555.1,237.2 554.0,237.5C552.9,237.8 550.2,238.5 549.5,237.0C548.8,235.5 549.7,230.7 549.5,227.5C549.3,224.3 548.8,217.7 548.0,215.6C547.2,213.5 545.4,212.7 544.0,213.8C542.6,214.9 539.5,220.2 538.5,222.9C537.5,225.6 537.2,230.2 537.5,232.0C537.8,233.8 540.3,234.2 540.5,235.0C540.7,235.8 540.1,237.2 539.0,237.5C537.9,237.8 534.3,238.5 533.3,237.0C532.2,235.5 532.3,230.3 532.0,227.5C531.7,224.7 531.1,221.8 531.2,218.4C531.3,215.0 532.4,208.8 532.4,204.7C532.4,200.6 531.1,194.7 531.5,191.0C531.9,187.3 533.5,182.2 535.1,180.1Z" fill="#dfdcdc"/><path d="M592,213.8 L602,213.8 L598.8,233.9 L594,236.5 Z M548,215.6 L557,215.6 L556,233 L549.8,235.5 Z" fill="#d5d2d2"/><path d="M616.5,170 L619.3,162 C621.5,159 626,158.3 629.8,159 C632.6,160.6 634.2,164 635.6,170.5 C629,172.8 622,172.5 616.5,170 Z" fill="#aca5a7"/><path d="M620.5,163.5 L622.8,159.2 L627.5,160.2 Z" fill="#c7a4a9"/></g><text x="548.97" y="614" font-size="23" fill="#2b2b2b" textLength="11.14" lengthAdjust="spacingAndGlyphs" font-style="italic" stroke="#2b2b2b" stroke-width="0.5" stroke-linejoin="round">n</text><text x="567.70" y="612" font-size="23" fill="#555" textLength="9.62" lengthAdjust="spacingAndGlyphs" stroke="#555" stroke-width="0.5" stroke-linejoin="round">=</text><text x="586.08" y="614" font-size="23" fill="#2b2b2b" textLength="13.37" lengthAdjust="spacingAndGlyphs" stroke="#2b2b2b" stroke-width="0.5" stroke-linejoin="round">3</text><text x="359.94" y="697.4" font-size="26.5" fill="#262626" textLength="222.42" lengthAdjust="spacingAndGlyphs" stroke="#262626" stroke-width="0.5" stroke-linejoin="round">Experimental day</text><text x="367.77" y="735.0" font-size="26.5" fill="#262626" textLength="216.45" lengthAdjust="spacingAndGlyphs" stroke="#262626" stroke-width="0.5" stroke-linejoin="round">Virus inoculation</text><text x="328.50" y="772.4" font-size="26.5" fill="#262626" textLength="255.71" lengthAdjust="spacingAndGlyphs" stroke="#262626" stroke-width="0.5" stroke-linejoin="round">Clinical observation</text><text x="423.71" y="808.6" font-size="26.5" fill="#262626" textLength="158.80" lengthAdjust="spacingAndGlyphs" stroke="#262626" stroke-width="0.5" stroke-linejoin="round">Body weight</text><text x="352.21" y="846.0" font-size="26.5" fill="#262626" textLength="231.38" lengthAdjust="spacingAndGlyphs" stroke="#262626" stroke-width="0.5" stroke-linejoin="round">Body temperature</text><text x="374.34" y="883.3" font-size="26.5" fill="#262626" textLength="209.90" lengthAdjust="spacingAndGlyphs" stroke="#262626" stroke-width="0.5" stroke-linejoin="round">Blood collection</text><text x="239.38" y="920.8" font-size="26.5" fill="#262626" textLength="344.72" lengthAdjust="spacingAndGlyphs" stroke="#262626" stroke-width="0.5" stroke-linejoin="round">OPS, NS, and RS collection</text><text x="602.94" y="697.4" font-size="26.5" fill="#262626" textLength="32.98" lengthAdjust="spacingAndGlyphs" stroke="#262626" stroke-width="0.5" stroke-linejoin="round">- 4</text><text x="659.74" y="697.4" font-size="26.5" fill="#262626" textLength="21.11" lengthAdjust="spacingAndGlyphs" stroke="#262626" stroke-width="0.5" stroke-linejoin="round">-1</text><text x="720.89" y="697.4" font-size="26.5" fill="#262626" textLength="16.21" lengthAdjust="spacingAndGlyphs" stroke="#262626" stroke-width="0.5" stroke-linejoin="round">0</text><text x="777.10" y="697.4" font-size="26.5" fill="#262626" textLength="16.21" lengthAdjust="spacingAndGlyphs" stroke="#262626" stroke-width="0.5" stroke-linejoin="round">1</text><text x="834.09" y="697.4" font-size="26.5" fill="#262626" textLength="16.21" lengthAdjust="spacingAndGlyphs" stroke="#262626" stroke-width="0.5" stroke-linejoin="round">2</text><text x="890.78" y="697.4" font-size="26.5" fill="#262626" textLength="16.21" lengthAdjust="spacingAndGlyphs" stroke="#262626" stroke-width="0.5" stroke-linejoin="round">3</text><text x="947.39" y="697.4" font-size="26.5" fill="#262626" textLength="16.21" lengthAdjust="spacingAndGlyphs" stroke="#262626" stroke-width="0.5" stroke-linejoin="round">4</text><text x="1003.92" y="697.4" font-size="26.5" fill="#262626" textLength="16.21" lengthAdjust="spacingAndGlyphs" stroke="#262626" stroke-width="0.5" stroke-linejoin="round">5</text><text x="1060.39" y="697.4" font-size="26.5" fill="#262626" textLength="16.21" lengthAdjust="spacingAndGlyphs" stroke="#262626" stroke-width="0.5" stroke-linejoin="round">6</text><text x="1117.08" y="697.4" font-size="26.5" fill="#262626" textLength="16.21" lengthAdjust="spacingAndGlyphs" stroke="#262626" stroke-width="0.5" stroke-linejoin="round">7</text><text x="1173.69" y="697.4" font-size="26.5" fill="#262626" textLength="16.21" lengthAdjust="spacingAndGlyphs" stroke="#262626" stroke-width="0.5" stroke-linejoin="round">8</text><text x="1230.30" y="697.4" font-size="26.5" fill="#262626" textLength="16.21" lengthAdjust="spacingAndGlyphs" stroke="#262626" stroke-width="0.5" stroke-linejoin="round">9</text><text x="1278.25" y="697.4" font-size="26.5" fill="#262626" textLength="32.42" lengthAdjust="spacingAndGlyphs" stroke="#262626" stroke-width="0.5" stroke-linejoin="round">10</text><text x="1334.99" y="697.4" font-size="26.5" fill="#262626" textLength="32.42" lengthAdjust="spacingAndGlyphs" stroke="#262626" stroke-width="0.5" stroke-linejoin="round">11</text><text x="1391.61" y="697.4" font-size="26.5" fill="#262626" textLength="32.42" lengthAdjust="spacingAndGlyphs" stroke="#262626" stroke-width="0.5" stroke-linejoin="round">12</text><text x="1448.12" y="697.4" font-size="26.5" fill="#262626" textLength="32.42" lengthAdjust="spacingAndGlyphs" stroke="#262626" stroke-width="0.5" stroke-linejoin="round">13</text><text x="1504.50" y="697.4" font-size="26.5" fill="#262626" textLength="32.42" lengthAdjust="spacingAndGlyphs" stroke="#262626" stroke-width="0.5" stroke-linejoin="round">14</text><circle cx="729.0" cy="724.2" r="8.4" fill="#111"/><circle cx="672.0" cy="762" r="8.4" fill="#111"/><circle cx="729.0" cy="762" r="8.4" fill="#111"/><circle cx="785.6" cy="762" r="8.4" fill="#111"/><circle cx="842.2" cy="762" r="8.4" fill="#111"/><circle cx="898.8" cy="762" r="8.4" fill="#111"/><circle cx="955.4" cy="762" r="8.4" fill="#111"/><circle cx="1012.0" cy="762" r="8.4" fill="#111"/><circle cx="1068.6" cy="762" r="8.4" fill="#111"/><circle cx="1125.2" cy="762" r="8.4" fill="#111"/><circle cx="1181.8" cy="762" r="8.4" fill="#111"/><circle cx="1238.4" cy="762" r="8.4" fill="#111"/><circle cx="1295.0" cy="762" r="8.4" fill="#111"/><circle cx="1351.6" cy="762" r="8.4" fill="#111"/><circle cx="1408.2" cy="762" r="8.4" fill="#111"/><circle cx="1464.8" cy="762" r="8.4" fill="#111"/><circle cx="1521.4" cy="762" r="8.4" fill="#111"/><circle cx="672.0" cy="799" r="8.4" fill="#111"/><circle cx="729.0" cy="799" r="8.4" fill="#111"/><circle cx="785.6" cy="799" r="8.4" fill="#111"/><circle cx="842.2" cy="799" r="8.4" fill="#111"/><circle cx="898.8" cy="799" r="8.4" fill="#111"/><circle cx="955.4" cy="799" r="8.4" fill="#111"/><circle cx="1012.0" cy="799" r="8.4" fill="#111"/><circle cx="1068.6" cy="799" r="8.4" fill="#111"/><circle cx="1125.2" cy="799" r="8.4" fill="#111"/><circle cx="1295.0" cy="799" r="8.4" fill="#111"/><circle cx="1521.4" cy="799" r="8.4" fill="#111"/><circle cx="672.0" cy="836.9" r="8.4" fill="#111"/><circle cx="729.0" cy="836.9" r="8.4" fill="#111"/><circle cx="785.6" cy="836.9" r="8.4" fill="#111"/><circle cx="842.2" cy="836.9" r="8.4" fill="#111"/><circle cx="898.8" cy="836.9" r="8.4" fill="#111"/><circle cx="955.4" cy="836.9" r="8.4" fill="#111"/><circle cx="1012.0" cy="836.9" r="8.4" fill="#111"/><circle cx="1068.6" cy="836.9" r="8.4" fill="#111"/><circle cx="1125.2" cy="836.9" r="8.4" fill="#111"/><circle cx="1295.0" cy="836.9" r="8.4" fill="#111"/><circle cx="1521.4" cy="836.9" r="8.4" fill="#111"/><circle cx="619.0" cy="874.8" r="8.4" fill="#111"/><circle cx="729.0" cy="874.8" r="8.4" fill="#111"/><circle cx="898.8" cy="874.8" r="8.4" fill="#111"/><circle cx="1012.0" cy="874.8" r="8.4" fill="#111"/><circle cx="1125.2" cy="874.8" r="8.4" fill="#111"/><circle cx="1521.4" cy="874.8" r="8.4" fill="#111"/><circle cx="729.0" cy="914.9" r="8.4" fill="#111"/><circle cx="785.6" cy="914.9" r="8.4" fill="#111"/><circle cx="898.8" cy="914.9" r="8.4" fill="#111"/><circle cx="1012.0" cy="914.9" r="8.4" fill="#111"/><circle cx="1125.2" cy="914.9" r="8.4" fill="#111"/><circle cx="1295.0" cy="914.9" r="8.4" fill="#111"/><circle cx="1521.4" cy="914.9" r="8.4" fill="#111"/><line x1="130.5" y1="1149.5" x2="130.5" y2="1470" stroke="#6e6e6e" stroke-width="2.8"/><line x1="119.0" y1="1470" x2="801" y2="1470" stroke="#6e6e6e" stroke-width="2.8"/><line x1="119.0" y1="1149.5" x2="130.5" y2="1149.5" stroke="#6e6e6e" stroke-width="2.8"/><text x="78.38" y="1157.1" font-size="24" fill="#2e2e2e" textLength="36.03" lengthAdjust="spacingAndGlyphs" stroke="#2e2e2e" stroke-width="0.25" stroke-linejoin="round">3.0</text><line x1="119.0" y1="1230" x2="130.5" y2="1230" stroke="#6e6e6e" stroke-width="2.8"/><text x="78.46" y="1237.6" font-size="24" fill="#2e2e2e" textLength="36.03" lengthAdjust="spacingAndGlyphs" stroke="#2e2e2e" stroke-width="0.25" stroke-linejoin="round">1.5</text><line x1="119.0" y1="1310.3" x2="130.5" y2="1310.3" stroke="#6e6e6e" stroke-width="2.8"/><text x="78.38" y="1317.8999999999999" font-size="24" fill="#2e2e2e" textLength="36.03" lengthAdjust="spacingAndGlyphs" stroke="#2e2e2e" stroke-width="0.25" stroke-linejoin="round">0.0</text><line x1="119.0" y1="1390.5" x2="130.5" y2="1390.5" stroke="#6e6e6e" stroke-width="2.8"/><text x="69.82" y="1398.1" font-size="24" fill="#2e2e2e" textLength="44.66" lengthAdjust="spacingAndGlyphs" stroke="#2e2e2e" stroke-width="0.25" stroke-linejoin="round">-1.5</text><line x1="119.0" y1="1470" x2="130.5" y2="1470" stroke="#6e6e6e" stroke-width="2.8"/><text x="69.75" y="1477.6" font-size="24" fill="#2e2e2e" textLength="44.66" lengthAdjust="spacingAndGlyphs" stroke="#2e2e2e" stroke-width="0.25" stroke-linejoin="round">-3.0</text><line x1="123.5" y1="1190" x2="130.5" y2="1190" stroke="#6e6e6e" stroke-width="2.4"/><line x1="123.5" y1="1270" x2="130.5" y2="1270" stroke="#6e6e6e" stroke-width="2.4"/><line x1="123.5" y1="1350.5" x2="130.5" y2="1350.5" stroke="#6e6e6e" stroke-width="2.4"/><line x1="123.5" y1="1430.2" x2="130.5" y2="1430.2" stroke="#6e6e6e" stroke-width="2.4"/><line x1="158.6" y1="1470" x2="158.6" y2="1481" stroke="#6e6e6e" stroke-width="2.4"/><text x="146.92" y="1507.2" font-size="24" fill="#2e2e2e" textLength="23.47" lengthAdjust="spacingAndGlyphs" stroke="#2e2e2e" stroke-width="0.25" stroke-linejoin="round">-1</text><line x1="220.0" y1="1470" x2="220.0" y2="1481" stroke="#6e6e6e" stroke-width="2.4"/><text x="212.66" y="1507.2" font-size="24" fill="#2e2e2e" textLength="14.68" lengthAdjust="spacingAndGlyphs" stroke="#2e2e2e" stroke-width="0.25" stroke-linejoin="round">0</text><line x1="281.4" y1="1470" x2="281.4" y2="1481" stroke="#6e6e6e" stroke-width="2.4"/><text x="273.70" y="1507.2" font-size="24" fill="#2e2e2e" textLength="14.68" lengthAdjust="spacingAndGlyphs" stroke="#2e2e2e" stroke-width="0.25" stroke-linejoin="round">1</text><line x1="342.8" y1="1470" x2="342.8" y2="1481" stroke="#6e6e6e" stroke-width="2.4"/><text x="335.46" y="1507.2" font-size="24" fill="#2e2e2e" textLength="14.68" lengthAdjust="spacingAndGlyphs" stroke="#2e2e2e" stroke-width="0.25" stroke-linejoin="round">2</text><line x1="404.2" y1="1470" x2="404.2" y2="1481" stroke="#6e6e6e" stroke-width="2.4"/><text x="396.94" y="1507.2" font-size="24" fill="#2e2e2e" textLength="14.68" lengthAdjust="spacingAndGlyphs" stroke="#2e2e2e" stroke-width="0.25" stroke-linejoin="round">3</text><line x1="465.6" y1="1470" x2="465.6" y2="1481" stroke="#6e6e6e" stroke-width="2.4"/><text x="458.34" y="1507.2" font-size="24" fill="#2e2e2e" textLength="14.68" lengthAdjust="spacingAndGlyphs" stroke="#2e2e2e" stroke-width="0.25" stroke-linejoin="round">4</text><line x1="527.0" y1="1470" x2="527.0" y2="1481" stroke="#6e6e6e" stroke-width="2.4"/><text x="519.68" y="1507.2" font-size="24" fill="#2e2e2e" textLength="14.68" lengthAdjust="spacingAndGlyphs" stroke="#2e2e2e" stroke-width="0.25" stroke-linejoin="round">5</text><line x1="588.4" y1="1470" x2="588.4" y2="1481" stroke="#6e6e6e" stroke-width="2.4"/><text x="580.97" y="1507.2" font-size="24" fill="#2e2e2e" textLength="14.68" lengthAdjust="spacingAndGlyphs" stroke="#2e2e2e" stroke-width="0.25" stroke-linejoin="round">6</text><line x1="649.8" y1="1470" x2="649.8" y2="1481" stroke="#6e6e6e" stroke-width="2.4"/><text x="642.45" y="1507.2" font-size="24" fill="#2e2e2e" textLength="14.68" lengthAdjust="spacingAndGlyphs" stroke="#2e2e2e" stroke-width="0.25" stroke-linejoin="round">7</text><line x1="711.2" y1="1470" x2="711.2" y2="1481" stroke="#6e6e6e" stroke-width="2.4"/><text x="696.03" y="1507.2" font-size="24" fill="#2e2e2e" textLength="29.36" lengthAdjust="spacingAndGlyphs" stroke="#2e2e2e" stroke-width="0.25" stroke-linejoin="round">10</text><line x1="772.6" y1="1470" x2="772.6" y2="1481" stroke="#6e6e6e" stroke-width="2.4"/><text x="757.30" y="1507.2" font-size="24" fill="#2e2e2e" textLength="29.36" lengthAdjust="spacingAndGlyphs" stroke="#2e2e2e" stroke-width="0.25" stroke-linejoin="round">14</text><line x1="132.5" y1="1310.3" x2="800" y2="1310.3" stroke="#6a6a6a" stroke-width="2.8" stroke-dasharray="2.4 4.2"/><path d="M177.4,1291.5L241.3,1310.4L300.2,1295.7L362.4,1310.6L423.9,1301.2L485.2,1303.2L546.0,1308.0L607.3,1328.7L669.6,1312.5L731.4,1298.1L792.6,1301.6" stroke="#a8a8a8" stroke-width="2.7" fill="none" stroke-linejoin="round"/><path d="M165.1,1325.1L225.7,1311.5L288.0,1344.8L349.0,1319.3L411.3,1335.8L473.0,1321.5L533.2,1322.6L595.2,1305.0L656.4,1334.5L718.1,1294.7L779.3,1324.1" stroke="#65ad65" stroke-width="2.7" fill="none" stroke-linejoin="round"/><path d="M152.8,1294.8L211.8,1310.4L274.9,1277.6L336.5,1275.2L398.3,1277.6L460.1,1292.5L519.8,1286.8L581.8,1298.3L643.7,1318.3L704.8,1343.1L766.0,1327.5" stroke="#f6bd86" stroke-width="2.7" fill="none" stroke-linejoin="round"/><path d="M137.3,1298.1L198.7,1310.4L261.8,1242.4L322.3,1271.3L384.5,1286.2L445.9,1292.5L506.5,1299.5L567.8,1303.8L629.8,1289.5L691.0,1343.1L752.7,1333.9" stroke="#5a5ae4" stroke-width="2.7" fill="none" stroke-linejoin="round"/><path d="M177.4,1282.0L177.4,1301.0M174.2,1282.0L180.6,1282.0M174.2,1301.0L180.6,1301.0" stroke="#acacac" stroke-width="2.4"/><path d="M300.2,1268.6L300.2,1322.6M297.0,1268.6L303.4,1268.6M297.0,1322.6L303.4,1322.6" stroke="#acacac" stroke-width="2.4"/><path d="M362.4,1275.2L362.4,1345.3M359.2,1275.2L365.6,1275.2M359.2,1345.3L365.6,1345.3" stroke="#acacac" stroke-width="2.4"/><path d="M423.9,1279.0L423.9,1322.4M420.7,1279.0L427.1,1279.0M420.7,1322.4L427.1,1322.4" stroke="#acacac" stroke-width="2.4"/><path d="M485.2,1283.1L485.2,1325.7M482.0,1283.1L488.4,1283.1M482.0,1325.7L488.4,1325.7" stroke="#acacac" stroke-width="2.4"/><path d="M546.0,1292.2L546.0,1325.7M542.8,1292.2L549.2,1292.2M542.8,1325.7L549.2,1325.7" stroke="#acacac" stroke-width="2.4"/><path d="M607.3,1316.0L607.3,1352.4M604.1,1316.0L610.5,1316.0M604.1,1352.4L610.5,1352.4" stroke="#acacac" stroke-width="2.4"/><path d="M669.6,1285.4L669.6,1341.4M666.4,1285.4L672.8,1285.4M666.4,1341.4L672.8,1341.4" stroke="#acacac" stroke-width="2.4"/><path d="M731.4,1283.7L731.4,1313.0M728.2,1283.7L734.6,1283.7M728.2,1313.0L734.6,1313.0" stroke="#acacac" stroke-width="2.4"/><path d="M792.6,1284.3L792.6,1318.3M789.4,1284.3L795.8,1284.3M789.4,1318.3L795.8,1318.3" stroke="#acacac" stroke-width="2.4"/><path d="M165.1,1299.0L165.1,1350.0M161.9,1299.0L168.3,1299.0M161.9,1350.0L168.3,1350.0" stroke="#5e9f5e" stroke-width="2.4"/><path d="M288.0,1310.5L288.0,1377.0M284.8,1310.5L291.2,1310.5M284.8,1377.0L291.2,1377.0" stroke="#5e9f5e" stroke-width="2.4"/><path d="M349.0,1274.4L349.0,1364.2M345.8,1274.4L352.2,1274.4M345.8,1364.2L352.2,1364.2" stroke="#5e9f5e" stroke-width="2.4"/><path d="M411.3,1305.9L411.3,1361.8M408.1,1305.9L414.5,1305.9M408.1,1361.8L414.5,1361.8" stroke="#5e9f5e" stroke-width="2.4"/><path d="M473.0,1292.2L473.0,1346.3M469.8,1292.2L476.2,1292.2M469.8,1346.3L476.2,1346.3" stroke="#5e9f5e" stroke-width="2.4"/><path d="M533.2,1305.0L533.2,1340.0M530.0,1305.0L536.4,1305.0M530.0,1340.0L536.4,1340.0" stroke="#5e9f5e" stroke-width="2.4"/><path d="M595.2,1265.5L595.2,1343.3M592.0,1265.5L598.4,1265.5M592.0,1343.3L598.4,1343.3" stroke="#5e9f5e" stroke-width="2.4"/><path d="M656.4,1320.0L656.4,1350.0M653.2,1320.0L659.6,1320.0M653.2,1350.0L659.6,1350.0" stroke="#5e9f5e" stroke-width="2.4"/><path d="M718.1,1241.0L718.1,1343.7M714.9,1241.0L721.3,1241.0M714.9,1343.7L721.3,1343.7" stroke="#5e9f5e" stroke-width="2.4"/><path d="M779.3,1291.2L779.3,1353.0M776.1,1291.2L782.5,1291.2M776.1,1353.0L782.5,1353.0" stroke="#5e9f5e" stroke-width="2.4"/><path d="M152.8,1276.0L152.8,1316.0M149.6,1276.0L156.0,1276.0M149.6,1316.0L156.0,1316.0" stroke="#f7bf88" stroke-width="2.4"/><path d="M274.9,1243.0L274.9,1309.0M271.7,1243.0L278.1,1243.0M271.7,1309.0L278.1,1309.0" stroke="#f7bf88" stroke-width="2.4"/><path d="M336.5,1239.8L336.5,1309.0M333.3,1239.8L339.7,1239.8M333.3,1309.0L339.7,1309.0" stroke="#f7bf88" stroke-width="2.4"/><path d="M398.3,1244.5L398.3,1309.0M395.1,1244.5L401.5,1244.5M395.1,1309.0L401.5,1309.0" stroke="#f7bf88" stroke-width="2.4"/><path d="M460.1,1257.9L460.1,1326.4M456.9,1257.9L463.3,1257.9M456.9,1326.4L463.3,1326.4" stroke="#f7bf88" stroke-width="2.4"/><path d="M519.8,1254.6L519.8,1316.5M516.6,1254.6L523.0,1254.6M516.6,1316.5L523.0,1316.5" stroke="#f7bf88" stroke-width="2.4"/><path d="M581.8,1269.2L581.8,1326.9M578.6,1269.2L585.0,1269.2M578.6,1326.9L585.0,1326.9" stroke="#f7bf88" stroke-width="2.4"/><path d="M643.7,1283.1L643.7,1354.7M640.5,1283.1L646.9,1283.1M640.5,1354.7L646.9,1354.7" stroke="#f7bf88" stroke-width="2.4"/><path d="M704.8,1325.8L704.8,1359.9M701.6,1325.8L708.0,1325.8M701.6,1359.9L708.0,1359.9" stroke="#f7bf88" stroke-width="2.4"/><path d="M766.0,1305.0L766.0,1350.6M762.8,1305.0L769.2,1305.0M762.8,1350.6L769.2,1350.6" stroke="#f7bf88" stroke-width="2.4"/><path d="M137.3,1279.5L137.3,1318.5M134.1,1279.5L140.5,1279.5M134.1,1318.5L140.5,1318.5" stroke="#7c7cf0" stroke-width="2.4"/><path d="M261.8,1198.1L261.8,1284.1M258.6,1198.1L265.0,1198.1M258.6,1284.1L265.0,1284.1" stroke="#7c7cf0" stroke-width="2.4"/><path d="M322.3,1235.0L322.3,1309.0M319.1,1235.0L325.5,1235.0M319.1,1309.0L325.5,1309.0" stroke="#7c7cf0" stroke-width="2.4"/><path d="M384.5,1258.7L384.5,1313.8M381.3,1258.7L387.7,1258.7M381.3,1313.8L387.7,1313.8" stroke="#7c7cf0" stroke-width="2.4"/><path d="M445.9,1272.0L445.9,1311.4M442.7,1272.0L449.1,1272.0M442.7,1311.4L449.1,1311.4" stroke="#7c7cf0" stroke-width="2.4"/><path d="M506.5,1275.8L506.5,1320.8M503.3,1275.8L509.7,1275.8M503.3,1320.8L509.7,1320.8" stroke="#7c7cf0" stroke-width="2.4"/><path d="M567.8,1280.7L567.8,1328.1M564.6,1280.7L571.0,1280.7M564.6,1328.1L571.0,1328.1" stroke="#7c7cf0" stroke-width="2.4"/><path d="M629.8,1276.8L629.8,1301.6M626.6,1276.8L633.0,1276.8M626.6,1301.6L633.0,1301.6" stroke="#7c7cf0" stroke-width="2.4"/><path d="M691.0,1318.3L691.0,1368.5M687.8,1318.3L694.2,1318.3M687.8,1368.5L694.2,1368.5" stroke="#7c7cf0" stroke-width="2.4"/><path d="M170.2,1284.3L184.6,1298.7M184.6,1284.3L170.2,1298.7" stroke="#636363" stroke-width="3.6"/><path d="M234.1,1303.2L248.5,1317.6M248.5,1303.2L234.1,1317.6" stroke="#636363" stroke-width="3.6"/><path d="M293.0,1288.5L307.4,1302.9M307.4,1288.5L293.0,1302.9" stroke="#636363" stroke-width="3.6"/><path d="M355.2,1303.4L369.6,1317.8M369.6,1303.4L355.2,1317.8" stroke="#636363" stroke-width="3.6"/><path d="M416.7,1294.0L431.1,1308.4M431.1,1294.0L416.7,1308.4" stroke="#636363" stroke-width="3.6"/><path d="M478.0,1296.0L492.4,1310.4M492.4,1296.0L478.0,1310.4" stroke="#636363" stroke-width="3.6"/><path d="M538.8,1300.8L553.2,1315.2M553.2,1300.8L538.8,1315.2" stroke="#636363" stroke-width="3.6"/><path d="M600.1,1321.5L614.5,1335.9M614.5,1321.5L600.1,1335.9" stroke="#636363" stroke-width="3.6"/><path d="M662.4,1305.3L676.8,1319.7M676.8,1305.3L662.4,1319.7" stroke="#636363" stroke-width="3.6"/><path d="M724.2,1290.9L738.6,1305.3M738.6,1290.9L724.2,1305.3" stroke="#636363" stroke-width="3.6"/><path d="M785.4,1294.4L799.8,1308.8M799.8,1294.4L785.4,1308.8" stroke="#636363" stroke-width="3.6"/><polygon points="165.1,1318.1 171.7,1329.7 158.5,1329.7" fill="#cfe8cf" stroke="#168016" stroke-width="3.9" stroke-linejoin="round"/><polygon points="225.7,1304.5 232.3,1316.1 219.1,1316.1" fill="#cfe8cf" stroke="#168016" stroke-width="3.9" stroke-linejoin="round"/><polygon points="288.0,1337.8 294.6,1349.4 281.4,1349.4" fill="#cfe8cf" stroke="#168016" stroke-width="3.9" stroke-linejoin="round"/><polygon points="349.0,1312.3 355.6,1323.9 342.4,1323.9" fill="#cfe8cf" stroke="#168016" stroke-width="3.9" stroke-linejoin="round"/><polygon points="411.3,1328.8 417.9,1340.4 404.7,1340.4" fill="#cfe8cf" stroke="#168016" stroke-width="3.9" stroke-linejoin="round"/><polygon points="473.0,1314.5 479.6,1326.1 466.4,1326.1" fill="#cfe8cf" stroke="#168016" stroke-width="3.9" stroke-linejoin="round"/><polygon points="533.2,1315.6 539.8,1327.2 526.6,1327.2" fill="#cfe8cf" stroke="#168016" stroke-width="3.9" stroke-linejoin="round"/><polygon points="595.2,1298.0 601.8,1309.6 588.6,1309.6" fill="#cfe8cf" stroke="#168016" stroke-width="3.9" stroke-linejoin="round"/><polygon points="656.4,1327.5 663.0,1339.1 649.8,1339.1" fill="#cfe8cf" stroke="#168016" stroke-width="3.9" stroke-linejoin="round"/><polygon points="718.1,1287.7 724.7,1299.3 711.5,1299.3" fill="#cfe8cf" stroke="#168016" stroke-width="3.9" stroke-linejoin="round"/><polygon points="779.3,1317.1 785.9,1328.7 772.7,1328.7" fill="#cfe8cf" stroke="#168016" stroke-width="3.9" stroke-linejoin="round"/><rect x="145.0" y="1287.0" width="15.6" height="15.6" rx="1.5" fill="#fff" fill-opacity="0.7" stroke="#f39532" stroke-width="3.3"/><rect x="204.0" y="1302.6" width="15.6" height="15.6" rx="1.5" fill="#fff" fill-opacity="0.7" stroke="#f39532" stroke-width="3.3"/><rect x="267.1" y="1269.8" width="15.6" height="15.6" rx="1.5" fill="#fff" fill-opacity="0.7" stroke="#f39532" stroke-width="3.3"/><rect x="328.7" y="1267.4" width="15.6" height="15.6" rx="1.5" fill="#fff" fill-opacity="0.7" stroke="#f39532" stroke-width="3.3"/><rect x="390.5" y="1269.8" width="15.6" height="15.6" rx="1.5" fill="#fff" fill-opacity="0.7" stroke="#f39532" stroke-width="3.3"/><rect x="452.3" y="1284.7" width="15.6" height="15.6" rx="1.5" fill="#fff" fill-opacity="0.7" stroke="#f39532" stroke-width="3.3"/><rect x="512.0" y="1279.0" width="15.6" height="15.6" rx="1.5" fill="#fff" fill-opacity="0.7" stroke="#f39532" stroke-width="3.3"/><rect x="574.0" y="1290.5" width="15.6" height="15.6" rx="1.5" fill="#fff" fill-opacity="0.7" stroke="#f39532" stroke-width="3.3"/><rect x="635.9" y="1310.5" width="15.6" height="15.6" rx="1.5" fill="#fff" fill-opacity="0.7" stroke="#f39532" stroke-width="3.3"/><rect x="697.0" y="1335.3" width="15.6" height="15.6" rx="1.5" fill="#fff" fill-opacity="0.7" stroke="#f39532" stroke-width="3.3"/><rect x="758.2" y="1319.7" width="15.6" height="15.6" rx="1.5" fill="#fff" fill-opacity="0.7" stroke="#f39532" stroke-width="3.3"/><circle cx="137.3" cy="1298.1" r="7.4" fill="#fff" fill-opacity="0.7" stroke="#2323e6" stroke-width="3.3"/><circle cx="198.7" cy="1310.4" r="7.4" fill="#fff" fill-opacity="0.7" stroke="#2323e6" stroke-width="3.3"/><circle cx="261.8" cy="1242.4" r="7.4" fill="#fff" fill-opacity="0.7" stroke="#2323e6" stroke-width="3.3"/><circle cx="322.3" cy="1271.3" r="7.4" fill="#fff" fill-opacity="0.7" stroke="#2323e6" stroke-width="3.3"/><circle cx="384.5" cy="1286.2" r="7.4" fill="#fff" fill-opacity="0.7" stroke="#2323e6" stroke-width="3.3"/><circle cx="445.9" cy="1292.5" r="7.4" fill="#fff" fill-opacity="0.7" stroke="#2323e6" stroke-width="3.3"/><circle cx="506.5" cy="1299.5" r="7.4" fill="#fff" fill-opacity="0.7" stroke="#2323e6" stroke-width="3.3"/><circle cx="567.8" cy="1303.8" r="7.4" fill="#fff" fill-opacity="0.7" stroke="#2323e6" stroke-width="3.3"/><circle cx="629.8" cy="1289.5" r="7.4" fill="#fff" fill-opacity="0.7" stroke="#2323e6" stroke-width="3.3"/><circle cx="691.0" cy="1343.1" r="7.4" fill="#fff" fill-opacity="0.7" stroke="#2323e6" stroke-width="3.3"/><circle cx="752.7" cy="1333.9" r="7.4" fill="#fff" fill-opacity="0.7" stroke="#2323e6" stroke-width="3.3"/><path d="M255.5,1184.7L255.5,1171.2L294,1171.2L294,1184.7" stroke="#7b7b7b" stroke-width="2.9" fill="none"/><text x="258.00" y="1164.99" font-size="21.5" font-weight="bold" fill="#000" stroke="#000" stroke-width="1.5" stroke-linejoin="round" letter-spacing="4.23">***</text><path d="M311.3,1213.8L311.3,1201.2L355.4,1201.2L355.4,1213.8" stroke="#7b7b7b" stroke-width="2.9" fill="none"/><text x="329.10" y="1196.19" font-size="21.5" font-weight="bold" fill="#000" stroke="#000" stroke-width="1.5" stroke-linejoin="round" letter-spacing="4.23">*</text><path d="M377.4,1229.5L377.4,1217.7L424.6,1217.7L424.6,1229.5" stroke="#7b7b7b" stroke-width="2.9" fill="none"/><text x="390.50" y="1211.99" font-size="21.5" font-weight="bold" fill="#000" stroke="#000" stroke-width="1.5" stroke-linejoin="round" letter-spacing="4.23">**</text><text x="34.94" y="1083.6" font-size="64" fill="#000" textLength="44.88" lengthAdjust="spacingAndGlyphs" font-weight="bold" stroke="#000" stroke-width="0.3" stroke-linejoin="round">B</text><text x="333.28" y="1100.5" font-size="31" fill="#1e1e1e" textLength="263.80" lengthAdjust="spacingAndGlyphs" stroke="#1e1e1e" stroke-width="0.25" stroke-linejoin="round">Body temperature</text><text transform="translate(55.0,1372.5) rotate(-90)" x="-0.69" y="0" font-size="24.5" fill="#2e2e2e" textLength="129.44" lengthAdjust="spacingAndGlyphs" stroke="#2e2e2e" stroke-width="0.25" stroke-linejoin="round">Change (ºC)</text><text x="361.49" y="1543.0" font-size="22.5" fill="#2e2e2e" textLength="208.50" lengthAdjust="spacingAndGlyphs" stroke="#2e2e2e" stroke-width="0.25" stroke-linejoin="round">Days post-infection</text><line x1="931" y1="1152.7" x2="931" y2="1468" stroke="#6e6e6e" stroke-width="2.8"/><line x1="919.5" y1="1468" x2="1619" y2="1468" stroke="#6e6e6e" stroke-width="2.8"/><line x1="919.5" y1="1152.7" x2="931" y2="1152.7" stroke="#6e6e6e" stroke-width="2.8"/><text x="864.36" y="1159.9" font-size="24" fill="#2e2e2e" textLength="50.45" lengthAdjust="spacingAndGlyphs" stroke="#2e2e2e" stroke-width="0.25" stroke-linejoin="round">15.0</text><line x1="919.5" y1="1231.5" x2="931" y2="1231.5" stroke="#6e6e6e" stroke-width="2.8"/><text x="878.86" y="1238.7" font-size="24" fill="#2e2e2e" textLength="36.03" lengthAdjust="spacingAndGlyphs" stroke="#2e2e2e" stroke-width="0.25" stroke-linejoin="round">7.5</text><line x1="919.5" y1="1310.9" x2="931" y2="1310.9" stroke="#6e6e6e" stroke-width="2.8"/><text x="878.78" y="1318.1000000000001" font-size="24" fill="#2e2e2e" textLength="36.03" lengthAdjust="spacingAndGlyphs" stroke="#2e2e2e" stroke-width="0.25" stroke-linejoin="round">0.0</text><line x1="919.5" y1="1390" x2="931" y2="1390" stroke="#6e6e6e" stroke-width="2.8"/><text x="870.22" y="1397.2" font-size="24" fill="#2e2e2e" textLength="44.66" lengthAdjust="spacingAndGlyphs" stroke="#2e2e2e" stroke-width="0.25" stroke-linejoin="round">-7.5</text><line x1="919.5" y1="1468" x2="931" y2="1468" stroke="#6e6e6e" stroke-width="2.8"/><text x="855.73" y="1475.2" font-size="24" fill="#2e2e2e" textLength="59.08" lengthAdjust="spacingAndGlyphs" stroke="#2e2e2e" stroke-width="0.25" stroke-linejoin="round">-15.0</text><line x1="924" y1="1191.8" x2="931" y2="1191.8" stroke="#6e6e6e" stroke-width="2.4"/><line x1="924" y1="1271.8" x2="931" y2="1271.8" stroke="#6e6e6e" stroke-width="2.4"/><line x1="924" y1="1350.5" x2="931" y2="1350.5" stroke="#6e6e6e" stroke-width="2.4"/><line x1="924" y1="1429" x2="931" y2="1429" stroke="#6e6e6e" stroke-width="2.4"/><line x1="960.0" y1="1468" x2="960.0" y2="1479" stroke="#6e6e6e" stroke-width="2.4"/><text x="948.32" y="1504.9" font-size="24" fill="#2e2e2e" textLength="23.47" lengthAdjust="spacingAndGlyphs" stroke="#2e2e2e" stroke-width="0.25" stroke-linejoin="round">-1</text><line x1="1023.0" y1="1468" x2="1023.0" y2="1479" stroke="#6e6e6e" stroke-width="2.4"/><text x="1015.66" y="1504.9" font-size="24" fill="#2e2e2e" textLength="14.68" lengthAdjust="spacingAndGlyphs" stroke="#2e2e2e" stroke-width="0.25" stroke-linejoin="round">0</text><line x1="1086.0" y1="1468" x2="1086.0" y2="1479" stroke="#6e6e6e" stroke-width="2.4"/><text x="1078.30" y="1504.9" font-size="24" fill="#2e2e2e" textLength="14.68" lengthAdjust="spacingAndGlyphs" stroke="#2e2e2e" stroke-width="0.25" stroke-linejoin="round">1</text><line x1="1149.0" y1="1468" x2="1149.0" y2="1479" stroke="#6e6e6e" stroke-width="2.4"/><text x="1141.66" y="1504.9" font-size="24" fill="#2e2e2e" textLength="14.68" lengthAdjust="spacingAndGlyphs" stroke="#2e2e2e" stroke-width="0.25" stroke-linejoin="round">2</text><line x1="1212.0" y1="1468" x2="1212.0" y2="1479" stroke="#6e6e6e" stroke-width="2.4"/><text x="1204.74" y="1504.9" font-size="24" fill="#2e2e2e" textLength="14.68" lengthAdjust="spacingAndGlyphs" stroke="#2e2e2e" stroke-width="0.25" stroke-linejoin="round">3</text><line x1="1275.0" y1="1468" x2="1275.0" y2="1479" stroke="#6e6e6e" stroke-width="2.4"/><text x="1267.74" y="1504.9" font-size="24" fill="#2e2e2e" textLength="14.68" lengthAdjust="spacingAndGlyphs" stroke="#2e2e2e" stroke-width="0.25" stroke-linejoin="round">4</text><line x1="1338.0" y1="1468" x2="1338.0" y2="1479" stroke="#6e6e6e" stroke-width="2.4"/><text x="1330.68" y="1504.9" font-size="24" fill="#2e2e2e" textLength="14.68" lengthAdjust="spacingAndGlyphs" stroke="#2e2e2e" stroke-width="0.25" stroke-linejoin="round">5</text><line x1="1401.0" y1="1468" x2="1401.0" y2="1479" stroke="#6e6e6e" stroke-width="2.4"/><text x="1393.57" y="1504.9" font-size="24" fill="#2e2e2e" textLength="14.68" lengthAdjust="spacingAndGlyphs" stroke="#2e2e2e" stroke-width="0.25" stroke-linejoin="round">6</text><line x1="1464.0" y1="1468" x2="1464.0" y2="1479" stroke="#6e6e6e" stroke-width="2.4"/><text x="1456.65" y="1504.9" font-size="24" fill="#2e2e2e" textLength="14.68" lengthAdjust="spacingAndGlyphs" stroke="#2e2e2e" stroke-width="0.25" stroke-linejoin="round">7</text><line x1="1527.0" y1="1468" x2="1527.0" y2="1479" stroke="#6e6e6e" stroke-width="2.4"/><text x="1511.83" y="1504.9" font-size="24" fill="#2e2e2e" textLength="29.36" lengthAdjust="spacingAndGlyphs" stroke="#2e2e2e" stroke-width="0.25" stroke-linejoin="round">10</text><line x1="1590.0" y1="1468" x2="1590.0" y2="1479" stroke="#6e6e6e" stroke-width="2.4"/><text x="1574.70" y="1504.9" font-size="24" fill="#2e2e2e" textLength="29.36" lengthAdjust="spacingAndGlyphs" stroke="#2e2e2e" stroke-width="0.25" stroke-linejoin="round">14</text><line x1="933" y1="1310.9" x2="1618" y2="1310.9" stroke="#6a6a6a" stroke-width="2.8" stroke-dasharray="2.4 4.2"/><path d="M980.9,1302.5L1047.7,1310.6L1107.3,1308.1L1169.9,1288.7L1232.4,1286.9L1295.9,1272.4L1359.4,1275.1L1421.6,1275.1L1484.6,1262.4L1547.4,1248.8L1610.2,1253.3" stroke="#a8a8a8" stroke-width="2.7" fill="none" stroke-linejoin="round"/><path d="M967.5,1316.5L1030.7,1311.5L1093.3,1305.6L1155.9,1297.8L1218.5,1270.5L1281.5,1265.7L1344.9,1271.8L1407.7,1254.6L1471.5,1231.0L1533.8,1237.4L1597.3,1219.3" stroke="#65ad65" stroke-width="2.7" fill="none" stroke-linejoin="round"/><path d="M954.2,1298.9L1016.1,1310.6L1079.9,1316.5L1143.1,1316.6L1205.1,1324.5L1268.9,1314.8L1331.6,1316.8L1394.5,1294.9L1458.4,1319.0L1520.2,1305.5L1583.7,1322.9" stroke="#f6bd86" stroke-width="2.7" fill="none" stroke-linejoin="round"/><path d="M941.4,1312.2L1001.0,1310.6L1066.0,1314.7L1128.6,1310.6L1191.1,1311.2L1252.5,1314.2L1317.7,1305.5L1381.3,1320.1L1444.3,1327.7L1506.6,1311.5L1569.3,1326.7" stroke="#5a5ae4" stroke-width="2.7" fill="none" stroke-linejoin="round"/><path d="M980.9,1294.6L980.9,1310.0M977.7,1294.6L984.1,1294.6M977.7,1310.0L984.1,1310.0" stroke="#acacac" stroke-width="2.4"/><path d="M1107.3,1279.6L1107.3,1337.9M1104.1,1279.6L1110.5,1279.6M1104.1,1337.9L1110.5,1337.9" stroke="#acacac" stroke-width="2.4"/><path d="M1169.9,1276.5L1169.9,1300.9M1166.7,1276.5L1173.1,1276.5M1166.7,1300.9L1173.1,1300.9" stroke="#acacac" stroke-width="2.4"/><path d="M1232.4,1277.8L1232.4,1297.2M1229.2,1277.8L1235.6,1277.8M1229.2,1297.2L1235.6,1297.2" stroke="#acacac" stroke-width="2.4"/><path d="M1295.9,1253.2L1295.9,1292.3M1292.7,1253.2L1299.1,1253.2M1292.7,1292.3L1299.1,1292.3" stroke="#acacac" stroke-width="2.4"/><path d="M1359.4,1255.9L1359.4,1291.6M1356.2,1255.9L1362.6,1255.9M1356.2,1291.6L1362.6,1291.6" stroke="#acacac" stroke-width="2.4"/><path d="M1421.6,1262.5L1421.6,1285.7M1418.4,1262.5L1424.8,1262.5M1418.4,1285.7L1424.8,1285.7" stroke="#acacac" stroke-width="2.4"/><path d="M1484.6,1253.3L1484.6,1271.5M1481.4,1253.3L1487.8,1253.3M1481.4,1271.5L1487.8,1271.5" stroke="#acacac" stroke-width="2.4"/><path d="M1610.2,1230.6L1610.2,1275.2M1607.0,1230.6L1613.4,1230.6M1607.0,1275.2L1613.4,1275.2" stroke="#acacac" stroke-width="2.4"/><path d="M967.5,1302.0L967.5,1329.3M964.3,1302.0L970.7,1302.0M964.3,1329.3L970.7,1329.3" stroke="#5e9f5e" stroke-width="2.4"/><path d="M1093.3,1289.8L1093.3,1319.5M1090.1,1289.8L1096.5,1289.8M1090.1,1319.5L1096.5,1319.5" stroke="#5e9f5e" stroke-width="2.4"/><path d="M1155.9,1288.0L1155.9,1305.0M1152.7,1288.0L1159.1,1288.0M1152.7,1305.0L1159.1,1305.0" stroke="#5e9f5e" stroke-width="2.4"/><path d="M1218.5,1248.6L1218.5,1289.9M1215.3,1248.6L1221.7,1248.6M1215.3,1289.9L1221.7,1289.9" stroke="#5e9f5e" stroke-width="2.4"/><path d="M1281.5,1250.0L1281.5,1280.0M1278.3,1250.0L1284.7,1250.0M1278.3,1280.0L1284.7,1280.0" stroke="#5e9f5e" stroke-width="2.4"/><path d="M1344.9,1255.2L1344.9,1289.0M1341.7,1255.2L1348.1,1255.2M1341.7,1289.0L1348.1,1289.0" stroke="#5e9f5e" stroke-width="2.4"/><path d="M1407.7,1230.0L1407.7,1273.8M1404.5,1230.0L1410.9,1230.0M1404.5,1273.8L1410.9,1273.8" stroke="#5e9f5e" stroke-width="2.4"/><path d="M1471.5,1201.9L1471.5,1256.4M1468.3,1201.9L1474.7,1201.9M1468.3,1256.4L1474.7,1256.4" stroke="#5e9f5e" stroke-width="2.4"/><path d="M1533.8,1206.4L1533.8,1267.7M1530.6,1206.4L1537.0,1206.4M1530.6,1267.7L1537.0,1267.7" stroke="#5e9f5e" stroke-width="2.4"/><path d="M1597.3,1179.2L1597.3,1257.8M1594.1,1179.2L1600.5,1179.2M1594.1,1257.8L1600.5,1257.8" stroke="#5e9f5e" stroke-width="2.4"/><path d="M1079.9,1283.1L1079.9,1342.6M1076.7,1283.1L1083.1,1283.1M1076.7,1342.6L1083.1,1342.6" stroke="#f7bf88" stroke-width="2.4"/><path d="M1143.1,1286.3L1143.1,1345.8M1139.9,1286.3L1146.3,1286.3M1139.9,1345.8L1146.3,1345.8" stroke="#f7bf88" stroke-width="2.4"/><path d="M1205.1,1303.9L1205.1,1345.8M1201.9,1303.9L1208.3,1303.9M1201.9,1345.8L1208.3,1345.8" stroke="#f7bf88" stroke-width="2.4"/><path d="M1268.9,1295.4L1268.9,1336.7M1265.7,1295.4L1272.1,1295.4M1265.7,1336.7L1272.1,1336.7" stroke="#f7bf88" stroke-width="2.4"/><path d="M1331.6,1290.3L1331.6,1341.3M1328.4,1290.3L1334.8,1290.3M1328.4,1341.3L1334.8,1341.3" stroke="#f7bf88" stroke-width="2.4"/><path d="M1394.5,1281.0L1394.5,1308.8M1391.3,1281.0L1397.7,1281.0M1391.3,1308.8L1397.7,1308.8" stroke="#f7bf88" stroke-width="2.4"/><path d="M1458.4,1301.7L1458.4,1339.5M1455.2,1301.7L1461.6,1301.7M1455.2,1339.5L1461.6,1339.5" stroke="#f7bf88" stroke-width="2.4"/><path d="M1520.2,1285.8L1520.2,1326.7M1517.0,1285.8L1523.4,1285.8M1517.0,1326.7L1523.4,1326.7" stroke="#f7bf88" stroke-width="2.4"/><path d="M1583.7,1279.0L1583.7,1366.0M1580.5,1279.0L1586.9,1279.0M1580.5,1366.0L1586.9,1366.0" stroke="#f7bf88" stroke-width="2.4"/><path d="M1066.0,1300.1L1066.0,1328.0M1062.8,1300.1L1069.2,1300.1M1062.8,1328.0L1069.2,1328.0" stroke="#7c7cf0" stroke-width="2.4"/><path d="M1191.1,1287.5L1191.1,1337.3M1187.9,1287.5L1194.3,1287.5M1187.9,1337.3L1194.3,1337.3" stroke="#7c7cf0" stroke-width="2.4"/><path d="M1252.5,1299.0L1252.5,1332.4M1249.3,1299.0L1255.7,1299.0M1249.3,1332.4L1255.7,1332.4" stroke="#7c7cf0" stroke-width="2.4"/><path d="M1317.7,1284.3L1317.7,1328.0M1314.5,1284.3L1320.9,1284.3M1314.5,1328.0L1320.9,1328.0" stroke="#7c7cf0" stroke-width="2.4"/><path d="M1381.3,1295.0L1381.3,1343.9M1378.1,1295.0L1384.5,1295.0M1378.1,1343.9L1384.5,1343.9" stroke="#7c7cf0" stroke-width="2.4"/><path d="M1444.3,1304.9L1444.3,1351.2M1441.1,1304.9L1447.5,1304.9M1441.1,1351.2L1447.5,1351.2" stroke="#7c7cf0" stroke-width="2.4"/><path d="M1506.6,1284.3L1506.6,1340.3M1503.4,1284.3L1509.8,1284.3M1503.4,1340.3L1509.8,1340.3" stroke="#7c7cf0" stroke-width="2.4"/><path d="M1569.3,1299.4L1569.3,1353.1M1566.1,1299.4L1572.5,1299.4M1566.1,1353.1L1572.5,1353.1" stroke="#7c7cf0" stroke-width="2.4"/><path d="M973.7,1295.3L988.1,1309.7M988.1,1295.3L973.7,1309.7" stroke="#636363" stroke-width="3.6"/><path d="M1040.5,1303.4L1054.9,1317.8M1054.9,1303.4L1040.5,1317.8" stroke="#636363" stroke-width="3.6"/><path d="M1100.1,1300.9L1114.5,1315.3M1114.5,1300.9L1100.1,1315.3" stroke="#636363" stroke-width="3.6"/><path d="M1162.7,1281.5L1177.1,1295.9M1177.1,1281.5L1162.7,1295.9" stroke="#636363" stroke-width="3.6"/><path d="M1225.2,1279.7L1239.6,1294.1M1239.6,1279.7L1225.2,1294.1" stroke="#636363" stroke-width="3.6"/><path d="M1288.7,1265.2L1303.1,1279.6M1303.1,1265.2L1288.7,1279.6" stroke="#636363" stroke-width="3.6"/><path d="M1352.2,1267.9L1366.6,1282.3M1366.6,1267.9L1352.2,1282.3" stroke="#636363" stroke-width="3.6"/><path d="M1414.4,1267.9L1428.8,1282.3M1428.8,1267.9L1414.4,1282.3" stroke="#636363" stroke-width="3.6"/><path d="M1477.4,1255.2L1491.8,1269.6M1491.8,1255.2L1477.4,1269.6" stroke="#636363" stroke-width="3.6"/><path d="M1540.2,1241.6L1554.6,1256.0M1554.6,1241.6L1540.2,1256.0" stroke="#636363" stroke-width="3.6"/><path d="M1603.0,1246.1L1617.4,1260.5M1617.4,1246.1L1603.0,1260.5" stroke="#636363" stroke-width="3.6"/><polygon points="967.5,1309.5 974.1,1321.1 960.9,1321.1" fill="#cfe8cf" stroke="#168016" stroke-width="3.9" stroke-linejoin="round"/><polygon points="1030.7,1304.5 1037.3,1316.1 1024.1,1316.1" fill="#cfe8cf" stroke="#168016" stroke-width="3.9" stroke-linejoin="round"/><polygon points="1093.3,1298.6 1099.9,1310.2 1086.7,1310.2" fill="#cfe8cf" stroke="#168016" stroke-width="3.9" stroke-linejoin="round"/><polygon points="1155.9,1290.8 1162.5,1302.4 1149.3,1302.4" fill="#cfe8cf" stroke="#168016" stroke-width="3.9" stroke-linejoin="round"/><polygon points="1218.5,1263.5 1225.1,1275.1 1211.9,1275.1" fill="#cfe8cf" stroke="#168016" stroke-width="3.9" stroke-linejoin="round"/><polygon points="1281.5,1258.7 1288.1,1270.3 1274.9,1270.3" fill="#cfe8cf" stroke="#168016" stroke-width="3.9" stroke-linejoin="round"/><polygon points="1344.9,1264.8 1351.5,1276.4 1338.3,1276.4" fill="#cfe8cf" stroke="#168016" stroke-width="3.9" stroke-linejoin="round"/><polygon points="1407.7,1247.6 1414.3,1259.2 1401.1,1259.2" fill="#cfe8cf" stroke="#168016" stroke-width="3.9" stroke-linejoin="round"/><polygon points="1471.5,1224.0 1478.1,1235.6 1464.9,1235.6" fill="#cfe8cf" stroke="#168016" stroke-width="3.9" stroke-linejoin="round"/><polygon points="1533.8,1230.4 1540.4,1242.0 1527.2,1242.0" fill="#cfe8cf" stroke="#168016" stroke-width="3.9" stroke-linejoin="round"/><polygon points="1597.3,1212.3 1603.9,1223.9 1590.7,1223.9" fill="#cfe8cf" stroke="#168016" stroke-width="3.9" stroke-linejoin="round"/><rect x="946.4" y="1291.1" width="15.6" height="15.6" rx="1.5" fill="#fff" fill-opacity="0.7" stroke="#f39532" stroke-width="3.3"/><rect x="1008.3" y="1302.8" width="15.6" height="15.6" rx="1.5" fill="#fff" fill-opacity="0.7" stroke="#f39532" stroke-width="3.3"/><rect x="1072.1" y="1308.7" width="15.6" height="15.6" rx="1.5" fill="#fff" fill-opacity="0.7" stroke="#f39532" stroke-width="3.3"/><rect x="1135.3" y="1308.8" width="15.6" height="15.6" rx="1.5" fill="#fff" fill-opacity="0.7" stroke="#f39532" stroke-width="3.3"/><rect x="1197.3" y="1316.7" width="15.6" height="15.6" rx="1.5" fill="#fff" fill-opacity="0.7" stroke="#f39532" stroke-width="3.3"/><rect x="1261.1" y="1307.0" width="15.6" height="15.6" rx="1.5" fill="#fff" fill-opacity="0.7" stroke="#f39532" stroke-width="3.3"/><rect x="1323.8" y="1309.0" width="15.6" height="15.6" rx="1.5" fill="#fff" fill-opacity="0.7" stroke="#f39532" stroke-width="3.3"/><rect x="1386.7" y="1287.1" width="15.6" height="15.6" rx="1.5" fill="#fff" fill-opacity="0.7" stroke="#f39532" stroke-width="3.3"/><rect x="1450.6" y="1311.2" width="15.6" height="15.6" rx="1.5" fill="#fff" fill-opacity="0.7" stroke="#f39532" stroke-width="3.3"/><rect x="1512.4" y="1297.7" width="15.6" height="15.6" rx="1.5" fill="#fff" fill-opacity="0.7" stroke="#f39532" stroke-width="3.3"/><rect x="1575.9" y="1315.1" width="15.6" height="15.6" rx="1.5" fill="#fff" fill-opacity="0.7" stroke="#f39532" stroke-width="3.3"/><circle cx="941.4" cy="1312.2" r="7.4" fill="#fff" fill-opacity="0.7" stroke="#2323e6" stroke-width="3.3"/><circle cx="1001.0" cy="1310.6" r="7.4" fill="#fff" fill-opacity="0.7" stroke="#2323e6" stroke-width="3.3"/><circle cx="1066.0" cy="1314.7" r="7.4" fill="#fff" fill-opacity="0.7" stroke="#2323e6" stroke-width="3.3"/><circle cx="1128.6" cy="1310.6" r="7.4" fill="#fff" fill-opacity="0.7" stroke="#2323e6" stroke-width="3.3"/><circle cx="1191.1" cy="1311.2" r="7.4" fill="#fff" fill-opacity="0.7" stroke="#2323e6" stroke-width="3.3"/><circle cx="1252.5" cy="1314.2" r="7.4" fill="#fff" fill-opacity="0.7" stroke="#2323e6" stroke-width="3.3"/><circle cx="1317.7" cy="1305.5" r="7.4" fill="#fff" fill-opacity="0.7" stroke="#2323e6" stroke-width="3.3"/><circle cx="1381.3" cy="1320.1" r="7.4" fill="#fff" fill-opacity="0.7" stroke="#2323e6" stroke-width="3.3"/><circle cx="1444.3" cy="1327.7" r="7.4" fill="#fff" fill-opacity="0.7" stroke="#2323e6" stroke-width="3.3"/><circle cx="1506.6" cy="1311.5" r="7.4" fill="#fff" fill-opacity="0.7" stroke="#2323e6" stroke-width="3.3"/><circle cx="1569.3" cy="1326.7" r="7.4" fill="#fff" fill-opacity="0.7" stroke="#2323e6" stroke-width="3.3"/><path d="M1188.1,1264.4L1188.1,1249.8L1233,1249.8L1233,1264.4" stroke="#7b7b7b" stroke-width="2.9" fill="none"/><text x="1206.40" y="1245.39" font-size="21.5" font-weight="bold" fill="#000" stroke="#000" stroke-width="1.5" stroke-linejoin="round" letter-spacing="4.23">*</text><path d="M1245.2,1258.3L1245.2,1244.3L1291.4,1244.3L1291.4,1258.3" stroke="#7b7b7b" stroke-width="2.9" fill="none"/><text x="1264.10" y="1239.39" font-size="21.5" font-weight="bold" fill="#000" stroke="#000" stroke-width="1.5" stroke-linejoin="round" letter-spacing="4.23">*</text><path d="M1303.2,1255.9L1303.2,1241.3L1359.4,1241.3L1359.4,1255.9" stroke="#7b7b7b" stroke-width="2.9" fill="none"/><text x="1328.10" y="1236.89" font-size="21.5" font-weight="bold" fill="#000" stroke="#000" stroke-width="1.5" stroke-linejoin="round" letter-spacing="4.23">*</text><path d="M1374.6,1237.4L1374.6,1222.8L1430.9,1222.8L1430.9,1237.4" stroke="#7b7b7b" stroke-width="2.9" fill="none"/><text x="1398.20" y="1218.39" font-size="21.5" font-weight="bold" fill="#000" stroke="#000" stroke-width="1.5" stroke-linejoin="round" letter-spacing="4.23">*</text><path d="M1432.2,1206.4L1432.2,1192.5L1487.7,1192.5L1487.7,1206.4" stroke="#7b7b7b" stroke-width="2.9" fill="none"/><text x="1449.90" y="1187.79" font-size="21.5" font-weight="bold" fill="#000" stroke="#000" stroke-width="1.5" stroke-linejoin="round" letter-spacing="4.23">**</text><path d="M1505,1204.1L1505,1190.5L1561.8,1190.5L1561.8,1204.1" stroke="#7b7b7b" stroke-width="2.9" fill="none"/><text x="1523.30" y="1185.39" font-size="21.5" font-weight="bold" fill="#000" stroke="#000" stroke-width="1.5" stroke-linejoin="round" letter-spacing="4.23">**</text><path d="M1568.6,1181.4L1568.6,1167.8L1625.3,1167.8L1625.3,1181.4" stroke="#7b7b7b" stroke-width="2.9" fill="none"/><text x="1573.50" y="1162.69" font-size="21.5" font-weight="bold" fill="#000" stroke="#000" stroke-width="1.5" stroke-linejoin="round" letter-spacing="4.23">****</text><text x="809.34" y="1083.6" font-size="64" fill="#000" textLength="39.76" lengthAdjust="spacingAndGlyphs" font-weight="bold" stroke="#000" stroke-width="0.3" stroke-linejoin="round">C</text><text x="1176.53" y="1103.0" font-size="31" fill="#1e1e1e" textLength="197.54" lengthAdjust="spacingAndGlyphs" stroke="#1e1e1e" stroke-width="0.25" stroke-linejoin="round">Body weight</text><text transform="translate(840.0,1368.3) rotate(-90)" x="-0.69" y="0" font-size="24.5" fill="#2e2e2e" textLength="124.74" lengthAdjust="spacingAndGlyphs" stroke="#2e2e2e" stroke-width="0.25" stroke-linejoin="round">Change (%)</text><text x="1168.84" y="1544.0" font-size="22.5" fill="#2e2e2e" textLength="213.49" lengthAdjust="spacingAndGlyphs" stroke="#2e2e2e" stroke-width="0.25" stroke-linejoin="round">Days post-infection</text></svg>
</body></html>
